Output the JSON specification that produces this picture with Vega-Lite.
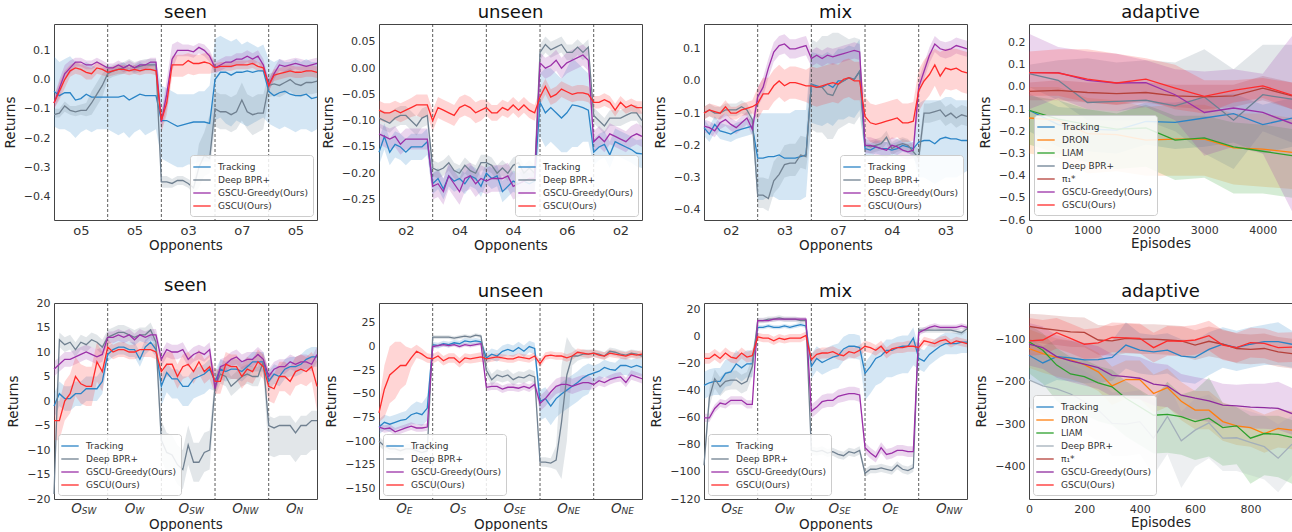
{
"$schema":"https://vega.github.io/schema/vega-lite/v6.json",
"padding":{"left":2,"top":3,"right":0,"bottom":0},
"config":{
"font":"DejaVu Sans",
"view":{"stroke":"#444","strokeWidth":1},
"title":{"fontSize":18,"fontWeight":"normal","color":"#111","offset":2,"anchor":"middle"},
"axis":{"grid":false,"ticks":false,"domain":false,"labelFontSize":11,"labelColor":"#333","titleFontSize":13.5,"titleFontWeight":"normal","titleColor":"#222","labelPadding":4,"labelOverlap":false,"labelFlush":false},
"axisX":{"titlePadding":1},
"axisY":{"titlePadding":6},
"legend":{"offset":4,"fillColor":"rgba(255,255,255,0.85)","strokeColor":"#cccccc","cornerRadius":3,"padding":5,"labelFontSize":9,"labelColor":"#333","symbolType":"M-1.45,0H1.45","symbolSize":144,"symbolStrokeWidth":2,"rowPadding":1,"labelOffset":9,"labelLimit":220},
"area":{"opacity":0.2},
"line":{"strokeWidth":1.3},
"rule":{"color":"#333","strokeDash":[3,2],"strokeWidth":0.8}
},
"datasets":{
"p1":[
{"x":0,"T":-0.04,"Tl":-0.16,"Th":0.08,"B":-0.12,"Bl":-0.13,"Bh":-0.1,"G":-0.08,"Gl":-0.1,"Gh":-0.06,"R":-0.08,"Rl":-0.1,"Rh":-0.06},
{"x":1,"T":-0.055,"Tl":-0.17,"Th":0.06,"B":-0.115,"Bl":-0.13,"Bh":-0.1,"G":-0.03,"Gl":-0.06,"Gh":0,"R":-0.04,"Rl":-0.07,"Rh":-0.01},
{"x":2,"T":-0.045,"Tl":-0.17,"Th":0.07,"B":-0.09,"Bl":-0.11,"Bh":-0.075,"G":0.02,"Gl":0,"Gh":0.05,"R":0,"Rl":-0.03,"Rh":0.03},
{"x":3,"T":-0.045,"Tl":-0.18,"Th":0.08,"B":-0.105,"Bl":-0.12,"Bh":-0.09,"G":0.04,"Gl":0.02,"Gh":0.065,"R":0.03,"Rl":0.01,"Rh":0.05},
{"x":4,"T":-0.07,"Tl":-0.2,"Th":0.06,"B":-0.11,"Bl":-0.125,"Bh":-0.09,"G":0.06,"Gl":0.045,"Gh":0.075,"R":0.04,"Rl":0.02,"Rh":0.06},
{"x":5,"T":-0.065,"Tl":-0.18,"Th":0.05,"B":-0.105,"Bl":-0.12,"Bh":-0.085,"G":0.06,"Gl":0.045,"Gh":0.075,"R":0.035,"Rl":0.015,"Rh":0.055},
{"x":6,"T":-0.05,"Tl":-0.17,"Th":0.06,"B":-0.105,"Bl":-0.125,"Bh":-0.08,"G":0.05,"Gl":0.035,"Gh":0.065,"R":0.025,"Rl":0,"Rh":0.045},
{"x":7,"T":-0.06,"Tl":-0.18,"Th":0.05,"B":-0.08,"Bl":-0.12,"Bh":-0.04,"G":0.05,"Gl":0.035,"Gh":0.065,"R":0.02,"Rl":0,"Rh":0.04},
{"x":8,"T":-0.06,"Tl":-0.17,"Th":0.04,"B":-0.05,"Bl":-0.09,"Bh":-0.01,"G":0.06,"Gl":0.045,"Gh":0.075,"R":0.04,"Rl":0.02,"Rh":0.06},
{"x":9,"T":-0.06,"Tl":-0.17,"Th":0.04,"B":-0.02,"Bl":-0.06,"Bh":0.02,"G":0.05,"Gl":0.035,"Gh":0.065,"R":0.035,"Rl":0.015,"Rh":0.055},
{"x":10,"T":-0.06,"Tl":-0.17,"Th":0.05,"B":0.02,"Bl":0,"Bh":0.04,"G":0.04,"Gl":0.025,"Gh":0.055,"R":0.025,"Rl":0.01,"Rh":0.04},
{"x":11,"T":-0.06,"Tl":-0.18,"Th":0.04,"B":0.03,"Bl":0.01,"Bh":0.05,"G":0.04,"Gl":0.025,"Gh":0.055,"R":0.03,"Rl":0.015,"Rh":0.045},
{"x":12,"T":-0.06,"Tl":-0.19,"Th":0.05,"B":0.035,"Bl":0.015,"Bh":0.055,"G":0.05,"Gl":0.035,"Gh":0.065,"R":0.035,"Rl":0.02,"Rh":0.05},
{"x":13,"T":-0.055,"Tl":-0.18,"Th":0.06,"B":0.04,"Bl":0.02,"Bh":0.06,"G":0.04,"Gl":0.025,"Gh":0.055,"R":0.035,"Rl":0.02,"Rh":0.05},
{"x":14,"T":-0.07,"Tl":-0.2,"Th":0.04,"B":0.05,"Bl":0.03,"Bh":0.07,"G":0.05,"Gl":0.035,"Gh":0.065,"R":0.03,"Rl":0.015,"Rh":0.045},
{"x":15,"T":-0.06,"Tl":-0.18,"Th":0.05,"B":0.04,"Bl":0.02,"Bh":0.06,"G":0.04,"Gl":0.025,"Gh":0.055,"R":0.035,"Rl":0.02,"Rh":0.05},
{"x":16,"T":-0.05,"Tl":-0.17,"Th":0.06,"B":0.045,"Bl":0.025,"Bh":0.065,"G":0.05,"Gl":0.035,"Gh":0.065,"R":0.03,"Rl":0.015,"Rh":0.045},
{"x":17,"T":-0.055,"Tl":-0.19,"Th":0.05,"B":0.05,"Bl":0.03,"Bh":0.07,"G":0.05,"Gl":0.035,"Gh":0.065,"R":0.035,"Rl":0.02,"Rh":0.05},
{"x":18,"T":-0.055,"Tl":-0.18,"Th":0.06,"B":0.05,"Bl":0.03,"Bh":0.07,"G":0.06,"Gl":0.045,"Gh":0.075,"R":0.035,"Rl":0.02,"Rh":0.05},
{"x":19,"T":-0.055,"Tl":-0.17,"Th":0.06,"B":0.05,"Bl":0.03,"Bh":0.07,"G":0.06,"Gl":0.045,"Gh":0.075,"R":0.03,"Rl":0.015,"Rh":0.045},
{"x":20,"T":-0.14,"Tl":-0.27,"Th":-0.02,"B":-0.35,"Bl":-0.37,"Bh":-0.33,"G":-0.145,"Gl":-0.17,"Gh":-0.12,"R":-0.14,"Rl":-0.18,"Rh":-0.11},
{"x":21,"T":-0.14,"Tl":-0.28,"Th":-0.03,"B":-0.35,"Bl":-0.37,"Bh":-0.33,"G":-0.05,"Gl":-0.1,"Gh":0,"R":-0.08,"Rl":-0.12,"Rh":-0.04},
{"x":22,"T":-0.15,"Tl":-0.29,"Th":-0.04,"B":-0.355,"Bl":-0.37,"Bh":-0.34,"G":0.07,"Gl":0.03,"Gh":0.12,"R":0.05,"Rl":0.01,"Rh":0.08},
{"x":23,"T":-0.16,"Tl":-0.3,"Th":-0.05,"B":-0.345,"Bl":-0.36,"Bh":-0.33,"G":0.1,"Gl":0.08,"Gh":0.13,"R":0.05,"Rl":0.01,"Rh":0.085},
{"x":24,"T":-0.155,"Tl":-0.3,"Th":-0.05,"B":-0.345,"Bl":-0.36,"Bh":-0.33,"G":0.1,"Gl":0.08,"Gh":0.12,"R":0.05,"Rl":0.01,"Rh":0.085},
{"x":25,"T":-0.15,"Tl":-0.29,"Th":-0.05,"B":-0.355,"Bl":-0.37,"Bh":-0.34,"G":0.1,"Gl":0.08,"Gh":0.12,"R":0.065,"Rl":0.02,"Rh":0.09},
{"x":26,"T":-0.145,"Tl":-0.29,"Th":-0.05,"B":-0.37,"Bl":-0.39,"Bh":-0.35,"G":0.095,"Gl":0.075,"Gh":0.115,"R":0.055,"Rl":0.015,"Rh":0.085},
{"x":27,"T":-0.145,"Tl":-0.28,"Th":-0.04,"B":-0.3,"Bl":-0.37,"Bh":-0.22,"G":0.11,"Gl":0.09,"Gh":0.125,"R":0.055,"Rl":0.02,"Rh":0.085},
{"x":28,"T":-0.145,"Tl":-0.28,"Th":-0.04,"B":-0.26,"Bl":-0.33,"Bh":-0.18,"G":0.1,"Gl":0.08,"Gh":0.12,"R":0.06,"Rl":0.02,"Rh":0.09},
{"x":29,"T":-0.15,"Tl":-0.28,"Th":-0.02,"B":-0.27,"Bl":-0.32,"Bh":-0.12,"G":0.08,"Gl":0.06,"Gh":0.1,"R":0.055,"Rl":0.02,"Rh":0.09},
{"x":30,"T":0,"Tl":-0.14,"Th":0.14,"B":-0.1,"Bl":-0.16,"Bh":-0.04,"G":0.04,"Gl":0.02,"Gh":0.06,"R":0.04,"Rl":0.025,"Rh":0.055},
{"x":31,"T":0.025,"Tl":-0.13,"Th":0.15,"B":-0.11,"Bl":-0.17,"Bh":-0.05,"G":0.05,"Gl":0.03,"Gh":0.07,"R":0.045,"Rl":0.03,"Rh":0.06},
{"x":32,"T":0.025,"Tl":-0.15,"Th":0.14,"B":-0.11,"Bl":-0.17,"Bh":-0.05,"G":0.06,"Gl":0.04,"Gh":0.08,"R":0.045,"Rl":0.03,"Rh":0.06},
{"x":33,"T":0.015,"Tl":-0.16,"Th":0.13,"B":-0.12,"Bl":-0.18,"Bh":-0.06,"G":0.06,"Gl":0.04,"Gh":0.08,"R":0.045,"Rl":0.03,"Rh":0.06},
{"x":34,"T":0.025,"Tl":-0.14,"Th":0.14,"B":-0.11,"Bl":-0.17,"Bh":-0.05,"G":0.07,"Gl":0.05,"Gh":0.09,"R":0.05,"Rl":0.035,"Rh":0.065},
{"x":35,"T":0.025,"Tl":-0.15,"Th":0.12,"B":-0.07,"Bl":-0.14,"Bh":-0.01,"G":0.07,"Gl":0.05,"Gh":0.09,"R":0.05,"Rl":0.035,"Rh":0.065},
{"x":36,"T":0.03,"Tl":-0.16,"Th":0.13,"B":-0.11,"Bl":-0.17,"Bh":-0.05,"G":0.08,"Gl":0.06,"Gh":0.1,"R":0.05,"Rl":0.035,"Rh":0.065},
{"x":37,"T":0.025,"Tl":-0.15,"Th":0.12,"B":-0.12,"Bl":-0.19,"Bh":-0.06,"G":0.07,"Gl":0.05,"Gh":0.09,"R":0.055,"Rl":0.04,"Rh":0.07},
{"x":38,"T":0.03,"Tl":-0.14,"Th":0.11,"B":-0.115,"Bl":-0.18,"Bh":-0.05,"G":0.08,"Gl":0.06,"Gh":0.1,"R":0.045,"Rl":0.03,"Rh":0.06},
{"x":39,"T":0.03,"Tl":-0.13,"Th":0.12,"B":-0.115,"Bl":-0.17,"Bh":-0.05,"G":0.05,"Gl":0.03,"Gh":0.07,"R":0.04,"Rl":0.025,"Rh":0.055},
{"x":40,"T":-0.04,"Tl":-0.15,"Th":0.07,"B":-0.02,"Bl":-0.06,"Bh":0.02,"G":-0.02,"Gl":-0.04,"Gh":0,"R":-0.02,"Rl":-0.04,"Rh":0},
{"x":41,"T":-0.055,"Tl":-0.16,"Th":0.06,"B":-0.015,"Bl":-0.055,"Bh":0.025,"G":0.02,"Gl":0,"Gh":0.04,"R":0.015,"Rl":-0.005,"Rh":0.035},
{"x":42,"T":-0.045,"Tl":-0.17,"Th":0.07,"B":-0.02,"Bl":-0.06,"Bh":0.02,"G":0.05,"Gl":0.03,"Gh":0.07,"R":0.02,"Rl":0,"Rh":0.04},
{"x":43,"T":-0.04,"Tl":-0.16,"Th":0.06,"B":-0.01,"Bl":-0.05,"Bh":0.03,"G":0.045,"Gl":0.025,"Gh":0.065,"R":0.025,"Rl":0.005,"Rh":0.045},
{"x":44,"T":-0.05,"Tl":-0.17,"Th":0.06,"B":0,"Bl":-0.04,"Bh":0.04,"G":0.05,"Gl":0.03,"Gh":0.07,"R":0.03,"Rl":0.01,"Rh":0.05},
{"x":45,"T":-0.055,"Tl":-0.18,"Th":0.07,"B":-0.015,"Bl":-0.055,"Bh":0.025,"G":0.055,"Gl":0.035,"Gh":0.075,"R":0.025,"Rl":0.005,"Rh":0.045},
{"x":46,"T":-0.055,"Tl":-0.17,"Th":0.06,"B":-0.02,"Bl":-0.06,"Bh":0.02,"G":0.05,"Gl":0.03,"Gh":0.07,"R":0.025,"Rl":0.005,"Rh":0.045},
{"x":47,"T":-0.05,"Tl":-0.17,"Th":0.07,"B":-0.01,"Bl":-0.05,"Bh":0.03,"G":0.045,"Gl":0.025,"Gh":0.065,"R":0.03,"Rl":0.01,"Rh":0.05},
{"x":48,"T":-0.065,"Tl":-0.18,"Th":0.06,"B":-0.01,"Bl":-0.05,"Bh":0.03,"G":0.05,"Gl":0.03,"Gh":0.07,"R":0.03,"Rl":0.01,"Rh":0.05},
{"x":49,"T":-0.06,"Tl":-0.17,"Th":0.06,"B":-0.005,"Bl":-0.045,"Bh":0.035,"G":0.055,"Gl":0.035,"Gh":0.075,"R":0.025,"Rl":0.005,"Rh":0.045}
],
"p2":[
{"x":0,"T":-0.16,"Tl":-0.185,"Th":-0.135,"B":-0.095,"Bl":-0.113,"Bh":-0.077,"G":-0.125,"Gl":-0.145,"Gh":-0.105,"R":-0.08,"Rl":-0.098,"Rh":-0.062},
{"x":1,"T":-0.13,"Tl":-0.155,"Th":-0.105,"B":-0.1,"Bl":-0.118,"Bh":-0.082,"G":-0.13,"Gl":-0.15,"Gh":-0.11,"R":-0.085,"Rl":-0.103,"Rh":-0.067},
{"x":2,"T":-0.16,"Tl":-0.185,"Th":-0.135,"B":-0.105,"Bl":-0.123,"Bh":-0.087,"G":-0.135,"Gl":-0.155,"Gh":-0.115,"R":-0.085,"Rl":-0.103,"Rh":-0.067},
{"x":3,"T":-0.145,"Tl":-0.17,"Th":-0.12,"B":-0.095,"Bl":-0.113,"Bh":-0.077,"G":-0.13,"Gl":-0.15,"Gh":-0.11,"R":-0.08,"Rl":-0.098,"Rh":-0.062},
{"x":4,"T":-0.15,"Tl":-0.175,"Th":-0.125,"B":-0.09,"Bl":-0.108,"Bh":-0.072,"G":-0.145,"Gl":-0.165,"Gh":-0.125,"R":-0.085,"Rl":-0.103,"Rh":-0.067},
{"x":5,"T":-0.16,"Tl":-0.185,"Th":-0.135,"B":-0.09,"Bl":-0.108,"Bh":-0.072,"G":-0.135,"Gl":-0.155,"Gh":-0.115,"R":-0.08,"Rl":-0.098,"Rh":-0.062},
{"x":6,"T":-0.15,"Tl":-0.175,"Th":-0.125,"B":-0.1,"Bl":-0.118,"Bh":-0.082,"G":-0.135,"Gl":-0.155,"Gh":-0.115,"R":-0.075,"Rl":-0.093,"Rh":-0.057},
{"x":7,"T":-0.15,"Tl":-0.175,"Th":-0.125,"B":-0.11,"Bl":-0.128,"Bh":-0.092,"G":-0.135,"Gl":-0.155,"Gh":-0.115,"R":-0.07,"Rl":-0.09,"Rh":-0.05},
{"x":8,"T":-0.15,"Tl":-0.175,"Th":-0.125,"B":-0.095,"Bl":-0.113,"Bh":-0.077,"G":-0.135,"Gl":-0.155,"Gh":-0.115,"R":-0.07,"Rl":-0.095,"Rh":-0.05},
{"x":9,"T":-0.14,"Tl":-0.165,"Th":-0.115,"B":-0.09,"Bl":-0.108,"Bh":-0.072,"G":-0.135,"Gl":-0.155,"Gh":-0.115,"R":-0.07,"Rl":-0.09,"Rh":-0.05},
{"x":10,"T":-0.22,"Tl":-0.24,"Th":-0.2,"B":-0.19,"Bl":-0.205,"Bh":-0.175,"G":-0.225,"Gl":-0.25,"Gh":-0.2,"R":-0.1,"Rl":-0.12,"Rh":-0.08},
{"x":11,"T":-0.21,"Tl":-0.23,"Th":-0.19,"B":-0.195,"Bl":-0.21,"Bh":-0.18,"G":-0.22,"Gl":-0.245,"Gh":-0.195,"R":-0.075,"Rl":-0.095,"Rh":-0.055},
{"x":12,"T":-0.23,"Tl":-0.25,"Th":-0.21,"B":-0.19,"Bl":-0.205,"Bh":-0.175,"G":-0.235,"Gl":-0.26,"Gh":-0.21,"R":-0.08,"Rl":-0.1,"Rh":-0.06},
{"x":13,"T":-0.205,"Tl":-0.225,"Th":-0.185,"B":-0.18,"Bl":-0.195,"Bh":-0.165,"G":-0.205,"Gl":-0.23,"Gh":-0.18,"R":-0.085,"Rl":-0.105,"Rh":-0.065},
{"x":14,"T":-0.215,"Tl":-0.235,"Th":-0.195,"B":-0.195,"Bl":-0.21,"Bh":-0.18,"G":-0.22,"Gl":-0.245,"Gh":-0.195,"R":-0.09,"Rl":-0.11,"Rh":-0.07},
{"x":15,"T":-0.21,"Tl":-0.23,"Th":-0.19,"B":-0.2,"Bl":-0.215,"Bh":-0.185,"G":-0.235,"Gl":-0.26,"Gh":-0.21,"R":-0.075,"Rl":-0.095,"Rh":-0.055},
{"x":16,"T":-0.22,"Tl":-0.24,"Th":-0.2,"B":-0.185,"Bl":-0.2,"Bh":-0.17,"G":-0.21,"Gl":-0.235,"Gh":-0.185,"R":-0.07,"Rl":-0.09,"Rh":-0.05},
{"x":17,"T":-0.205,"Tl":-0.225,"Th":-0.185,"B":-0.195,"Bl":-0.21,"Bh":-0.18,"G":-0.205,"Gl":-0.23,"Gh":-0.18,"R":-0.075,"Rl":-0.095,"Rh":-0.055},
{"x":18,"T":-0.21,"Tl":-0.23,"Th":-0.19,"B":-0.2,"Bl":-0.215,"Bh":-0.185,"G":-0.22,"Gl":-0.245,"Gh":-0.195,"R":-0.085,"Rl":-0.105,"Rh":-0.065},
{"x":19,"T":-0.225,"Tl":-0.245,"Th":-0.205,"B":-0.18,"Bl":-0.195,"Bh":-0.165,"G":-0.21,"Gl":-0.235,"Gh":-0.185,"R":-0.08,"Rl":-0.1,"Rh":-0.06},
{"x":20,"T":-0.2,"Tl":-0.22,"Th":-0.18,"B":-0.18,"Bl":-0.195,"Bh":-0.165,"G":-0.215,"Gl":-0.24,"Gh":-0.19,"R":-0.075,"Rl":-0.09,"Rh":-0.06},
{"x":21,"T":-0.21,"Tl":-0.23,"Th":-0.19,"B":-0.185,"Bl":-0.2,"Bh":-0.17,"G":-0.21,"Gl":-0.235,"Gh":-0.185,"R":-0.085,"Rl":-0.1,"Rh":-0.07},
{"x":22,"T":-0.205,"Tl":-0.225,"Th":-0.185,"B":-0.2,"Bl":-0.215,"Bh":-0.185,"G":-0.21,"Gl":-0.235,"Gh":-0.185,"R":-0.085,"Rl":-0.1,"Rh":-0.07},
{"x":23,"T":-0.235,"Tl":-0.255,"Th":-0.215,"B":-0.19,"Bl":-0.205,"Bh":-0.175,"G":-0.21,"Gl":-0.235,"Gh":-0.185,"R":-0.075,"Rl":-0.09,"Rh":-0.06},
{"x":24,"T":-0.225,"Tl":-0.245,"Th":-0.205,"B":-0.2,"Bl":-0.215,"Bh":-0.185,"G":-0.205,"Gl":-0.23,"Gh":-0.18,"R":-0.08,"Rl":-0.095,"Rh":-0.065},
{"x":25,"T":-0.215,"Tl":-0.235,"Th":-0.195,"B":-0.185,"Bl":-0.2,"Bh":-0.17,"G":-0.225,"Gl":-0.25,"Gh":-0.2,"R":-0.07,"Rl":-0.085,"Rh":-0.055},
{"x":26,"T":-0.22,"Tl":-0.24,"Th":-0.2,"B":-0.18,"Bl":-0.195,"Bh":-0.165,"G":-0.22,"Gl":-0.245,"Gh":-0.195,"R":-0.08,"Rl":-0.095,"Rh":-0.065},
{"x":27,"T":-0.215,"Tl":-0.235,"Th":-0.195,"B":-0.2,"Bl":-0.215,"Bh":-0.185,"G":-0.215,"Gl":-0.24,"Gh":-0.19,"R":-0.07,"Rl":-0.085,"Rh":-0.055},
{"x":28,"T":-0.22,"Tl":-0.24,"Th":-0.2,"B":-0.19,"Bl":-0.205,"Bh":-0.175,"G":-0.21,"Gl":-0.235,"Gh":-0.185,"R":-0.08,"Rl":-0.095,"Rh":-0.065},
{"x":29,"T":-0.215,"Tl":-0.235,"Th":-0.195,"B":-0.2,"Bl":-0.215,"Bh":-0.185,"G":-0.21,"Gl":-0.235,"Gh":-0.185,"R":-0.085,"Rl":-0.1,"Rh":-0.07},
{"x":30,"T":-0.065,"Tl":-0.13,"Th":-0.01,"B":0.03,"Bl":0.015,"Bh":0.045,"G":0.01,"Gl":-0.01,"Gh":0.03,"R":-0.055,"Rl":-0.07,"Rh":-0.04},
{"x":31,"T":-0.085,"Tl":-0.15,"Th":0,"B":0.045,"Bl":0.03,"Bh":0.06,"G":0,"Gl":-0.02,"Gh":0.02,"R":-0.035,"Rl":-0.05,"Rh":-0.02},
{"x":32,"T":-0.075,"Tl":-0.14,"Th":0,"B":0.035,"Bl":0.02,"Bh":0.05,"G":0.005,"Gl":-0.015,"Gh":0.025,"R":-0.055,"Rl":-0.07,"Rh":-0.04},
{"x":33,"T":-0.085,"Tl":-0.15,"Th":-0.01,"B":0.04,"Bl":0.025,"Bh":0.055,"G":0.015,"Gl":-0.005,"Gh":0.035,"R":-0.05,"Rl":-0.065,"Rh":-0.035},
{"x":34,"T":-0.095,"Tl":-0.16,"Th":-0.02,"B":0.045,"Bl":0.03,"Bh":0.06,"G":0,"Gl":-0.02,"Gh":0.02,"R":-0.04,"Rl":-0.055,"Rh":-0.025},
{"x":35,"T":-0.085,"Tl":-0.16,"Th":0,"B":0.03,"Bl":0.015,"Bh":0.045,"G":0.01,"Gl":-0.01,"Gh":0.03,"R":-0.045,"Rl":-0.06,"Rh":-0.03},
{"x":36,"T":-0.07,"Tl":-0.15,"Th":0.02,"B":0.03,"Bl":0.015,"Bh":0.045,"G":0.015,"Gl":-0.005,"Gh":0.035,"R":-0.05,"Rl":-0.065,"Rh":-0.035},
{"x":37,"T":-0.072,"Tl":-0.15,"Th":0.01,"B":0.04,"Bl":0.025,"Bh":0.055,"G":0.02,"Gl":0,"Gh":0.04,"R":-0.047,"Rl":-0.062,"Rh":-0.032},
{"x":38,"T":-0.075,"Tl":-0.14,"Th":0,"B":0.03,"Bl":0.015,"Bh":0.045,"G":0.025,"Gl":0.005,"Gh":0.045,"R":-0.047,"Rl":-0.062,"Rh":-0.032},
{"x":39,"T":-0.08,"Tl":-0.14,"Th":-0.01,"B":0.04,"Bl":0.025,"Bh":0.055,"G":0.015,"Gl":-0.005,"Gh":0.035,"R":-0.05,"Rl":-0.065,"Rh":-0.035},
{"x":40,"T":-0.16,"Tl":-0.185,"Th":-0.135,"B":-0.09,"Bl":-0.105,"Bh":-0.075,"G":-0.14,"Gl":-0.16,"Gh":-0.12,"R":-0.065,"Rl":-0.077,"Rh":-0.053},
{"x":41,"T":-0.15,"Tl":-0.175,"Th":-0.125,"B":-0.1,"Bl":-0.115,"Bh":-0.085,"G":-0.13,"Gl":-0.15,"Gh":-0.11,"R":-0.065,"Rl":-0.077,"Rh":-0.053},
{"x":42,"T":-0.145,"Tl":-0.17,"Th":-0.12,"B":-0.11,"Bl":-0.125,"Bh":-0.095,"G":-0.14,"Gl":-0.16,"Gh":-0.12,"R":-0.06,"Rl":-0.072,"Rh":-0.048},
{"x":43,"T":-0.165,"Tl":-0.19,"Th":-0.14,"B":-0.095,"Bl":-0.11,"Bh":-0.08,"G":-0.125,"Gl":-0.145,"Gh":-0.105,"R":-0.065,"Rl":-0.077,"Rh":-0.053},
{"x":44,"T":-0.14,"Tl":-0.165,"Th":-0.115,"B":-0.095,"Bl":-0.11,"Bh":-0.08,"G":-0.13,"Gl":-0.15,"Gh":-0.11,"R":-0.08,"Rl":-0.092,"Rh":-0.068},
{"x":45,"T":-0.145,"Tl":-0.17,"Th":-0.12,"B":-0.095,"Bl":-0.11,"Bh":-0.08,"G":-0.135,"Gl":-0.155,"Gh":-0.115,"R":-0.065,"Rl":-0.077,"Rh":-0.053},
{"x":46,"T":-0.15,"Tl":-0.175,"Th":-0.125,"B":-0.09,"Bl":-0.105,"Bh":-0.075,"G":-0.14,"Gl":-0.16,"Gh":-0.12,"R":-0.075,"Rl":-0.087,"Rh":-0.063},
{"x":47,"T":-0.155,"Tl":-0.18,"Th":-0.13,"B":-0.085,"Bl":-0.1,"Bh":-0.07,"G":-0.13,"Gl":-0.15,"Gh":-0.11,"R":-0.07,"Rl":-0.082,"Rh":-0.058},
{"x":48,"T":-0.162,"Tl":-0.187,"Th":-0.137,"B":-0.085,"Bl":-0.1,"Bh":-0.07,"G":-0.125,"Gl":-0.145,"Gh":-0.105,"R":-0.075,"Rl":-0.087,"Rh":-0.063},
{"x":49,"T":-0.163,"Tl":-0.19,"Th":-0.135,"B":-0.1,"Bl":-0.115,"Bh":-0.085,"G":-0.13,"Gl":-0.15,"Gh":-0.11,"R":-0.075,"Rl":-0.087,"Rh":-0.063}
],
"p3":[
{"x":0,"T":-0.145,"Tl":-0.17,"Th":-0.12,"B":-0.1,"Bl":-0.12,"Bh":-0.08,"G":-0.14,"Gl":-0.16,"Gh":-0.12,"R":-0.1,"Rl":-0.12,"Rh":-0.08},
{"x":1,"T":-0.165,"Tl":-0.19,"Th":-0.14,"B":-0.09,"Bl":-0.11,"Bh":-0.07,"G":-0.145,"Gl":-0.165,"Gh":-0.125,"R":-0.09,"Rl":-0.11,"Rh":-0.07},
{"x":2,"T":-0.135,"Tl":-0.16,"Th":-0.11,"B":-0.1,"Bl":-0.12,"Bh":-0.08,"G":-0.155,"Gl":-0.175,"Gh":-0.135,"R":-0.095,"Rl":-0.115,"Rh":-0.075},
{"x":3,"T":-0.155,"Tl":-0.18,"Th":-0.13,"B":-0.1,"Bl":-0.12,"Bh":-0.08,"G":-0.13,"Gl":-0.15,"Gh":-0.11,"R":-0.1,"Rl":-0.12,"Rh":-0.08},
{"x":4,"T":-0.16,"Tl":-0.185,"Th":-0.135,"B":-0.09,"Bl":-0.11,"Bh":-0.07,"G":-0.12,"Gl":-0.14,"Gh":-0.1,"R":-0.08,"Rl":-0.1,"Rh":-0.06},
{"x":5,"T":-0.165,"Tl":-0.19,"Th":-0.14,"B":-0.09,"Bl":-0.11,"Bh":-0.07,"G":-0.135,"Gl":-0.155,"Gh":-0.115,"R":-0.1,"Rl":-0.12,"Rh":-0.08},
{"x":6,"T":-0.155,"Tl":-0.18,"Th":-0.13,"B":-0.09,"Bl":-0.11,"Bh":-0.07,"G":-0.145,"Gl":-0.165,"Gh":-0.125,"R":-0.1,"Rl":-0.12,"Rh":-0.08},
{"x":7,"T":-0.15,"Tl":-0.175,"Th":-0.125,"B":-0.08,"Bl":-0.1,"Bh":-0.06,"G":-0.13,"Gl":-0.15,"Gh":-0.11,"R":-0.09,"Rl":-0.11,"Rh":-0.07},
{"x":8,"T":-0.145,"Tl":-0.17,"Th":-0.12,"B":-0.09,"Bl":-0.11,"Bh":-0.07,"G":-0.115,"Gl":-0.135,"Gh":-0.095,"R":-0.085,"Rl":-0.105,"Rh":-0.065},
{"x":9,"T":-0.14,"Tl":-0.165,"Th":-0.115,"B":-0.12,"Bl":-0.14,"Bh":-0.1,"G":-0.15,"Gl":-0.17,"Gh":-0.13,"R":-0.08,"Rl":-0.1,"Rh":-0.06},
{"x":10,"T":-0.24,"Tl":-0.37,"Th":-0.1,"B":-0.355,"Bl":-0.395,"Bh":-0.3,"G":-0.05,"Gl":-0.08,"Gh":-0.02,"R":-0.07,"Rl":-0.12,"Rh":-0.02},
{"x":11,"T":-0.24,"Tl":-0.37,"Th":-0.1,"B":-0.355,"Bl":-0.395,"Bh":-0.3,"G":-0.02,"Gl":-0.05,"Gh":0.01,"R":-0.04,"Rl":-0.09,"Rh":0.01},
{"x":12,"T":-0.235,"Tl":-0.36,"Th":-0.1,"B":-0.365,"Bl":-0.405,"Bh":-0.305,"G":0.04,"Gl":0.01,"Gh":0.07,"R":-0.04,"Rl":-0.09,"Rh":0.01},
{"x":13,"T":-0.235,"Tl":-0.36,"Th":-0.1,"B":-0.31,"Bl":-0.35,"Bh":-0.25,"G":0.09,"Gl":0.06,"Gh":0.12,"R":-0.015,"Rl":-0.065,"Rh":0.035},
{"x":14,"T":-0.23,"Tl":-0.37,"Th":-0.1,"B":-0.29,"Bl":-0.33,"Bh":-0.23,"G":0.11,"Gl":0.08,"Gh":0.14,"R":0,"Rl":-0.05,"Rh":0.05},
{"x":15,"T":-0.24,"Tl":-0.37,"Th":-0.1,"B":-0.26,"Bl":-0.3,"Bh":-0.2,"G":0.115,"Gl":0.085,"Gh":0.145,"R":-0.015,"Rl":-0.065,"Rh":0.035},
{"x":16,"T":-0.24,"Tl":-0.37,"Th":-0.1,"B":-0.255,"Bl":-0.295,"Bh":-0.195,"G":0.1,"Gl":0.07,"Gh":0.13,"R":-0.005,"Rl":-0.055,"Rh":0.045},
{"x":17,"T":-0.24,"Tl":-0.37,"Th":-0.09,"B":-0.255,"Bl":-0.295,"Bh":-0.195,"G":0.1,"Gl":0.07,"Gh":0.13,"R":-0.005,"Rl":-0.055,"Rh":0.045},
{"x":18,"T":-0.235,"Tl":-0.37,"Th":-0.09,"B":-0.23,"Bl":-0.27,"Bh":-0.17,"G":0.105,"Gl":0.075,"Gh":0.135,"R":-0.01,"Rl":-0.06,"Rh":0.04},
{"x":19,"T":-0.23,"Tl":-0.36,"Th":-0.09,"B":-0.235,"Bl":-0.275,"Bh":-0.175,"G":0.11,"Gl":0.08,"Gh":0.14,"R":-0.015,"Rl":-0.065,"Rh":0.035},
{"x":20,"T":-0.01,"Tl":-0.13,"Th":0.09,"B":-0.01,"Bl":-0.15,"Bh":0.13,"G":0.07,"Gl":0.045,"Gh":0.095,"R":-0.015,"Rl":-0.075,"Rh":0.045},
{"x":21,"T":-0.015,"Tl":-0.135,"Th":0.085,"B":-0.02,"Bl":-0.16,"Bh":0.12,"G":0.08,"Gl":0.055,"Gh":0.105,"R":-0.02,"Rl":-0.08,"Rh":0.04},
{"x":22,"T":-0.02,"Tl":-0.14,"Th":0.08,"B":-0.02,"Bl":-0.16,"Bh":0.14,"G":0.07,"Gl":0.045,"Gh":0.095,"R":-0.015,"Rl":-0.075,"Rh":0.045},
{"x":23,"T":-0.01,"Tl":-0.13,"Th":0.09,"B":-0.04,"Bl":-0.18,"Bh":0.14,"G":0.08,"Gl":0.055,"Gh":0.105,"R":-0.01,"Rl":-0.07,"Rh":0.05},
{"x":24,"T":-0.02,"Tl":-0.14,"Th":0.08,"B":-0.045,"Bl":-0.18,"Bh":0.15,"G":0.075,"Gl":0.05,"Gh":0.1,"R":-0.005,"Rl":-0.065,"Rh":0.055},
{"x":25,"T":0,"Tl":-0.12,"Th":0.1,"B":-0.01,"Bl":-0.15,"Bh":0.15,"G":0.08,"Gl":0.055,"Gh":0.105,"R":-0.01,"Rl":-0.07,"Rh":0.05},
{"x":26,"T":0,"Tl":-0.12,"Th":0.1,"B":0,"Bl":-0.14,"Bh":0.14,"G":0.085,"Gl":0.06,"Gh":0.11,"R":0.005,"Rl":-0.055,"Rh":0.065},
{"x":27,"T":0.01,"Tl":-0.11,"Th":0.11,"B":0.01,"Bl":-0.13,"Bh":0.13,"G":0.09,"Gl":0.065,"Gh":0.115,"R":0.01,"Rl":-0.05,"Rh":0.07},
{"x":28,"T":0.005,"Tl":-0.115,"Th":0.105,"B":0.005,"Bl":-0.135,"Bh":0.135,"G":0.095,"Gl":0.07,"Gh":0.12,"R":0,"Rl":-0.06,"Rh":0.06},
{"x":29,"T":0.03,"Tl":-0.09,"Th":0.13,"B":0.03,"Bl":-0.11,"Bh":0.13,"G":0.09,"Gl":0.065,"Gh":0.115,"R":0,"Rl":-0.06,"Rh":0.06},
{"x":30,"T":-0.21,"Tl":-0.23,"Th":-0.19,"B":-0.2,"Bl":-0.22,"Bh":-0.18,"G":-0.2,"Gl":-0.225,"Gh":-0.175,"R":-0.11,"Rl":-0.17,"Rh":-0.05},
{"x":31,"T":-0.215,"Tl":-0.235,"Th":-0.195,"B":-0.205,"Bl":-0.225,"Bh":-0.185,"G":-0.2,"Gl":-0.225,"Gh":-0.175,"R":-0.13,"Rl":-0.19,"Rh":-0.07},
{"x":32,"T":-0.205,"Tl":-0.225,"Th":-0.185,"B":-0.2,"Bl":-0.22,"Bh":-0.18,"G":-0.205,"Gl":-0.23,"Gh":-0.18,"R":-0.135,"Rl":-0.195,"Rh":-0.075},
{"x":33,"T":-0.21,"Tl":-0.23,"Th":-0.19,"B":-0.195,"Bl":-0.215,"Bh":-0.175,"G":-0.21,"Gl":-0.235,"Gh":-0.185,"R":-0.13,"Rl":-0.19,"Rh":-0.07},
{"x":34,"T":-0.21,"Tl":-0.23,"Th":-0.19,"B":-0.175,"Bl":-0.195,"Bh":-0.155,"G":-0.215,"Gl":-0.24,"Gh":-0.19,"R":-0.125,"Rl":-0.185,"Rh":-0.065},
{"x":35,"T":-0.215,"Tl":-0.235,"Th":-0.195,"B":-0.21,"Bl":-0.23,"Bh":-0.19,"G":-0.2,"Gl":-0.225,"Gh":-0.175,"R":-0.12,"Rl":-0.18,"Rh":-0.06},
{"x":36,"T":-0.21,"Tl":-0.23,"Th":-0.19,"B":-0.2,"Bl":-0.22,"Bh":-0.18,"G":-0.205,"Gl":-0.23,"Gh":-0.18,"R":-0.115,"Rl":-0.175,"Rh":-0.055},
{"x":37,"T":-0.2,"Tl":-0.22,"Th":-0.18,"B":-0.195,"Bl":-0.215,"Bh":-0.175,"G":-0.215,"Gl":-0.24,"Gh":-0.19,"R":-0.13,"Rl":-0.19,"Rh":-0.07},
{"x":38,"T":-0.205,"Tl":-0.225,"Th":-0.185,"B":-0.2,"Bl":-0.22,"Bh":-0.18,"G":-0.22,"Gl":-0.245,"Gh":-0.195,"R":-0.13,"Rl":-0.19,"Rh":-0.07},
{"x":39,"T":-0.21,"Tl":-0.23,"Th":-0.19,"B":-0.22,"Bl":-0.24,"Bh":-0.2,"G":-0.215,"Gl":-0.24,"Gh":-0.19,"R":-0.125,"Rl":-0.185,"Rh":-0.065},
{"x":40,"T":-0.19,"Tl":-0.3,"Th":-0.07,"B":-0.24,"Bl":-0.27,"Bh":-0.21,"G":-0.02,"Gl":-0.045,"Gh":0.005,"R":-0.03,"Rl":-0.095,"Rh":0.035},
{"x":41,"T":-0.185,"Tl":-0.3,"Th":-0.06,"B":-0.1,"Bl":-0.13,"Bh":-0.07,"G":0.03,"Gl":0.005,"Gh":0.055,"R":0,"Rl":-0.065,"Rh":0.065},
{"x":42,"T":-0.185,"Tl":-0.31,"Th":-0.06,"B":-0.1,"Bl":-0.13,"Bh":-0.07,"G":0.08,"Gl":0.055,"Gh":0.105,"R":0.02,"Rl":-0.045,"Rh":0.085},
{"x":43,"T":-0.195,"Tl":-0.32,"Th":-0.06,"B":-0.095,"Bl":-0.125,"Bh":-0.065,"G":0.115,"Gl":0.09,"Gh":0.14,"R":0.05,"Rl":-0.015,"Rh":0.1},
{"x":44,"T":-0.18,"Tl":-0.31,"Th":-0.06,"B":-0.09,"Bl":-0.12,"Bh":-0.06,"G":0.1,"Gl":0.075,"Gh":0.125,"R":0.015,"Rl":-0.05,"Rh":0.09},
{"x":45,"T":-0.175,"Tl":-0.3,"Th":-0.05,"B":-0.11,"Bl":-0.14,"Bh":-0.08,"G":0.095,"Gl":0.07,"Gh":0.12,"R":0.04,"Rl":-0.025,"Rh":0.1},
{"x":46,"T":-0.18,"Tl":-0.3,"Th":-0.05,"B":-0.1,"Bl":-0.13,"Bh":-0.07,"G":0.1,"Gl":0.075,"Gh":0.125,"R":0.035,"Rl":-0.03,"Rh":0.1},
{"x":47,"T":-0.18,"Tl":-0.3,"Th":-0.06,"B":-0.115,"Bl":-0.145,"Bh":-0.085,"G":0.11,"Gl":0.085,"Gh":0.135,"R":0.04,"Rl":-0.025,"Rh":0.1},
{"x":48,"T":-0.185,"Tl":-0.29,"Th":-0.06,"B":-0.105,"Bl":-0.135,"Bh":-0.075,"G":0.105,"Gl":0.08,"Gh":0.13,"R":0.03,"Rl":-0.035,"Rh":0.095},
{"x":49,"T":-0.185,"Tl":-0.28,"Th":-0.06,"B":-0.11,"Bl":-0.14,"Bh":-0.08,"G":0.1,"Gl":0.075,"Gh":0.125,"R":0.025,"Rl":-0.04,"Rh":0.09}
],
"p4":[
{"x":0,"T":-0.105,"Tl":-0.2,"Th":-0.03,"D":-0.14,"Dl":-0.3,"Dh":0,"L":-0.105,"Ll":-0.26,"Lh":-0.04,"B":0.06,"Bl":0,"Bh":0.1,"P":-0.02,"Pl":-0.06,"Ph":0.02,"G":0.065,"Gl":-0.1,"Gh":0.24,"R":0.065,"Rl":-0.04,"Rh":0.16},
{"x":500,"T":-0.17,"Tl":-0.27,"Th":-0.09,"D":-0.15,"Dl":-0.32,"Dh":0,"L":-0.145,"Ll":-0.3,"Lh":-0.06,"B":0.03,"Bl":-0.06,"Bh":0.12,"P":-0.015,"Pl":-0.06,"Ph":0.03,"G":0.065,"Gl":-0.05,"Gh":0.18,"R":0.063,"Rl":-0.04,"Rh":0.17},
{"x":1000,"T":-0.19,"Tl":-0.29,"Th":-0.1,"D":-0.21,"Dl":-0.39,"Dh":-0.05,"L":-0.17,"Ll":-0.34,"Lh":-0.1,"B":-0.07,"Bl":-0.15,"Bh":0.13,"P":-0.025,"Pl":-0.07,"Ph":0.02,"G":0.03,"Gl":-0.1,"Gh":0.16,"R":0.035,"Rl":-0.07,"Rh":0.17},
{"x":1500,"T":-0.195,"Tl":-0.3,"Th":-0.11,"D":-0.215,"Dl":-0.38,"Dh":-0.06,"L":-0.19,"Ll":-0.37,"Lh":-0.12,"B":-0.065,"Bl":-0.15,"Bh":0.11,"P":-0.03,"Pl":-0.08,"Ph":0.02,"G":0.018,"Gl":-0.11,"Gh":0.15,"R":0.018,"Rl":-0.08,"Rh":0.15},
{"x":2000,"T":-0.155,"Tl":-0.26,"Th":-0.07,"D":-0.24,"Dl":-0.4,"Dh":-0.09,"L":-0.185,"Ll":-0.36,"Lh":-0.08,"B":-0.06,"Bl":-0.15,"Bh":0.12,"P":-0.025,"Pl":-0.07,"Ph":0.02,"G":0.02,"Gl":-0.09,"Gh":0.12,"R":0.035,"Rl":-0.06,"Rh":0.13},
{"x":2500,"T":-0.16,"Tl":-0.28,"Th":-0.07,"D":-0.235,"Dl":-0.4,"Dh":-0.08,"L":-0.24,"Ll":-0.42,"Lh":-0.13,"B":-0.085,"Bl":-0.2,"Bh":0.11,"P":-0.04,"Pl":-0.09,"Ph":0.01,"G":-0.035,"Gl":-0.15,"Gh":0.08,"R":-0.005,"Rl":-0.1,"Rh":0.1},
{"x":3000,"T":-0.14,"Tl":-0.27,"Th":-0.05,"D":-0.235,"Dl":-0.4,"Dh":-0.08,"L":-0.23,"Ll":-0.41,"Lh":-0.13,"B":-0.045,"Bl":-0.3,"Bh":0.17,"P":-0.045,"Pl":-0.1,"Ph":0.01,"G":-0.115,"Gl":-0.31,"Gh":0.07,"R":-0.042,"Rl":-0.12,"Rh":0.03},
{"x":3500,"T":-0.12,"Tl":-0.25,"Th":-0.03,"D":-0.275,"Dl":-0.44,"Dh":-0.12,"L":-0.27,"Ll":-0.48,"Lh":-0.16,"B":-0.15,"Bl":-0.37,"Bh":0.08,"P":-0.04,"Pl":-0.09,"Ph":0.01,"G":-0.095,"Gl":-0.27,"Gh":0.08,"R":-0.015,"Rl":-0.07,"Rh":0.03},
{"x":4000,"T":-0.17,"Tl":-0.3,"Th":-0.08,"D":-0.28,"Dl":-0.45,"Dh":-0.12,"L":-0.29,"Ll":-0.48,"Lh":-0.17,"B":-0.035,"Bl":-0.2,"Bh":0.19,"P":-0.005,"Pl":-0.06,"Ph":0.05,"G":-0.115,"Gl":-0.3,"Gh":0.06,"R":0.005,"Rl":-0.05,"Rh":0.04},
{"x":4500,"T":-0.14,"Tl":-0.27,"Th":-0.05,"D":-0.295,"Dl":-0.46,"Dh":-0.14,"L":-0.31,"Ll":-0.5,"Lh":-0.19,"B":-0.055,"Bl":-0.25,"Bh":0.19,"P":-0.04,"Pl":-0.1,"Ph":0.02,"G":-0.165,"Gl":-0.56,"Gh":0.23,"R":-0.037,"Rl":-0.1,"Rh":0.02}
],
"p5":[
{"x":0,"T":-1,"Tl":-3.5,"Th":1.5,"B":-19,"Bl":-20,"Bh":-17,"G":6.5,"Gl":5,"Gh":8,"R":-4,"Rl":-8,"Rh":0},
{"x":1,"T":1.5,"Tl":-1,"Th":4,"B":12.5,"Bl":11,"Bh":14,"G":7.5,"Gl":6,"Gh":9,"R":-4,"Rl":-8,"Rh":0},
{"x":2,"T":0.5,"Tl":-2,"Th":3,"B":11.5,"Bl":10,"Bh":13,"G":8.5,"Gl":7,"Gh":10,"R":0,"Rl":-4,"Rh":4},
{"x":3,"T":0.5,"Tl":-2,"Th":3,"B":12,"Bl":10.5,"Bh":13.5,"G":8.5,"Gl":7,"Gh":10,"R":1.5,"Rl":-2.5,"Rh":5.5},
{"x":4,"T":1.5,"Tl":-1,"Th":4,"B":10.5,"Bl":9,"Bh":12,"G":9,"Gl":7.5,"Gh":10.5,"R":5,"Rl":1,"Rh":9},
{"x":5,"T":1.5,"Tl":-1,"Th":4,"B":12,"Bl":10.5,"Bh":13.5,"G":9.5,"Gl":8,"Gh":11,"R":3.5,"Rl":-0.5,"Rh":7.5},
{"x":6,"T":2.5,"Tl":0,"Th":5,"B":11.5,"Bl":10,"Bh":13,"G":10,"Gl":8.5,"Gh":11.5,"R":3,"Rl":-1,"Rh":7},
{"x":7,"T":2.5,"Tl":0,"Th":5,"B":12.5,"Bl":11,"Bh":14,"G":9.5,"Gl":8,"Gh":11,"R":3,"Rl":-1,"Rh":7},
{"x":8,"T":2.5,"Tl":0,"Th":5,"B":12,"Bl":10.5,"Bh":13.5,"G":9,"Gl":7.5,"Gh":10.5,"R":8,"Rl":4,"Rh":12},
{"x":9,"T":4,"Tl":1.5,"Th":6.5,"B":11,"Bl":9.5,"Bh":12.5,"G":9.5,"Gl":8,"Gh":11,"R":6,"Rl":2,"Rh":10},
{"x":10,"T":9.5,"Tl":8,"Th":11,"B":13,"Bl":11.5,"Bh":14.5,"G":13,"Gl":11.8,"Gh":14.2,"R":11,"Rl":9.5,"Rh":12.5},
{"x":11,"T":10.5,"Tl":9,"Th":12,"B":13.5,"Bl":12,"Bh":15,"G":13,"Gl":11.8,"Gh":14.2,"R":10,"Rl":8.5,"Rh":11.5},
{"x":12,"T":11,"Tl":9.5,"Th":12.5,"B":14,"Bl":12.5,"Bh":15.5,"G":13.5,"Gl":12.3,"Gh":14.7,"R":10.5,"Rl":9,"Rh":12},
{"x":13,"T":11,"Tl":9.5,"Th":12.5,"B":14,"Bl":12.5,"Bh":15.5,"G":13,"Gl":11.8,"Gh":14.2,"R":10.5,"Rl":9,"Rh":12},
{"x":14,"T":10.5,"Tl":9,"Th":12,"B":13.5,"Bl":12,"Bh":15,"G":13.5,"Gl":12.3,"Gh":14.7,"R":10,"Rl":8.5,"Rh":11.5},
{"x":15,"T":10.5,"Tl":9,"Th":12,"B":13,"Bl":11.5,"Bh":14.5,"G":12.5,"Gl":11.3,"Gh":13.7,"R":10,"Rl":8.5,"Rh":11.5},
{"x":16,"T":8.5,"Tl":7,"Th":10,"B":13.5,"Bl":12,"Bh":15,"G":13.5,"Gl":12.3,"Gh":14.7,"R":10.5,"Rl":9,"Rh":12},
{"x":17,"T":11,"Tl":9.5,"Th":12.5,"B":13.5,"Bl":12,"Bh":15,"G":13,"Gl":11.8,"Gh":14.2,"R":10.5,"Rl":9,"Rh":12},
{"x":18,"T":12,"Tl":10.5,"Th":13.5,"B":14.5,"Bl":13,"Bh":16,"G":13.5,"Gl":12.3,"Gh":14.7,"R":10.5,"Rl":9,"Rh":12},
{"x":19,"T":10.5,"Tl":9,"Th":12,"B":12,"Bl":10.5,"Bh":13.5,"G":13.5,"Gl":12.3,"Gh":14.7,"R":10,"Rl":8.5,"Rh":11.5},
{"x":20,"T":3,"Tl":-1,"Th":5,"B":-8,"Bl":-12,"Bh":-4,"G":8.5,"Gl":7,"Gh":10,"R":6,"Rl":3.5,"Rh":8.5},
{"x":21,"T":5.8,"Tl":1.8,"Th":7.8,"B":-10.5,"Bl":-14.5,"Bh":-6.5,"G":10.5,"Gl":9,"Gh":12,"R":7.5,"Rl":5,"Rh":10},
{"x":22,"T":4.5,"Tl":0.5,"Th":6.5,"B":-11,"Bl":-15,"Bh":-7,"G":10,"Gl":8.5,"Gh":11.5,"R":7.5,"Rl":5,"Rh":10},
{"x":23,"T":4.5,"Tl":0.5,"Th":6.5,"B":-13,"Bl":-17,"Bh":-9,"G":10,"Gl":8.5,"Gh":11.5,"R":5,"Rl":2.5,"Rh":7.5},
{"x":24,"T":3,"Tl":-1,"Th":5,"B":-14,"Bl":-18,"Bh":-10,"G":10.5,"Gl":9,"Gh":12,"R":7,"Rl":4.5,"Rh":9.5},
{"x":25,"T":3,"Tl":-1,"Th":5,"B":-9,"Bl":-13,"Bh":-5,"G":8.5,"Gl":7,"Gh":10,"R":7.5,"Rl":5,"Rh":10},
{"x":26,"T":4.5,"Tl":0.5,"Th":6.5,"B":-12.5,"Bl":-16.5,"Bh":-8.5,"G":9.5,"Gl":8,"Gh":11,"R":6,"Rl":3.5,"Rh":8.5},
{"x":27,"T":5,"Tl":1,"Th":7,"B":-12.5,"Bl":-16.5,"Bh":-8.5,"G":10,"Gl":8.5,"Gh":11.5,"R":8,"Rl":5.5,"Rh":10.5},
{"x":28,"T":5.5,"Tl":1.5,"Th":7.5,"B":-10.5,"Bl":-14.5,"Bh":-6.5,"G":9.5,"Gl":8,"Gh":11,"R":6,"Rl":3.5,"Rh":8.5},
{"x":29,"T":6.5,"Tl":2.5,"Th":8.5,"B":-10,"Bl":-14,"Bh":-6,"G":10.5,"Gl":9,"Gh":12,"R":7,"Rl":4.5,"Rh":9.5},
{"x":30,"T":4,"Tl":2,"Th":6,"B":3,"Bl":1,"Bh":5,"G":2.5,"Gl":1,"Gh":4,"R":4,"Rl":1.5,"Rh":6.5},
{"x":31,"T":6.5,"Tl":4.5,"Th":8.5,"B":5.5,"Bl":3.5,"Bh":7.5,"G":7,"Gl":5.5,"Gh":8.5,"R":4,"Rl":1.5,"Rh":6.5},
{"x":32,"T":6,"Tl":4,"Th":8,"B":5,"Bl":3,"Bh":7,"G":7.5,"Gl":6,"Gh":9,"R":7.5,"Rl":5,"Rh":10},
{"x":33,"T":6.5,"Tl":4.5,"Th":8.5,"B":3,"Bl":1,"Bh":5,"G":8.5,"Gl":7,"Gh":10,"R":7,"Rl":4.5,"Rh":9.5},
{"x":34,"T":6.5,"Tl":4.5,"Th":8.5,"B":4,"Bl":2,"Bh":6,"G":9,"Gl":7.5,"Gh":10.5,"R":7,"Rl":4.5,"Rh":9.5},
{"x":35,"T":6,"Tl":4,"Th":8,"B":5,"Bl":3,"Bh":7,"G":8,"Gl":6.5,"Gh":9.5,"R":5,"Rl":2.5,"Rh":7.5},
{"x":36,"T":7,"Tl":5,"Th":9,"B":5.5,"Bl":3.5,"Bh":7.5,"G":8.5,"Gl":7,"Gh":10,"R":6.5,"Rl":4,"Rh":9},
{"x":37,"T":8,"Tl":6,"Th":10,"B":5,"Bl":3,"Bh":7,"G":8.5,"Gl":7,"Gh":10,"R":6,"Rl":3.5,"Rh":8.5},
{"x":38,"T":8,"Tl":6,"Th":10,"B":5,"Bl":3,"Bh":7,"G":9.5,"Gl":8,"Gh":11,"R":8,"Rl":5.5,"Rh":10.5},
{"x":39,"T":8,"Tl":6,"Th":10,"B":8,"Bl":6,"Bh":10,"G":8.5,"Gl":7,"Gh":10,"R":7,"Rl":4.5,"Rh":9.5},
{"x":40,"T":4,"Tl":2,"Th":6,"B":-5,"Bl":-11,"Bh":-3,"G":5,"Gl":3.5,"Gh":6.5,"R":3,"Rl":0,"Rh":6},
{"x":41,"T":5.5,"Tl":3.5,"Th":7.5,"B":-5.5,"Bl":-11.5,"Bh":-3.5,"G":6.5,"Gl":5,"Gh":8,"R":2.5,"Rl":-0.5,"Rh":5.5},
{"x":42,"T":5,"Tl":3,"Th":7,"B":-5,"Bl":-11,"Bh":-3,"G":7,"Gl":5.5,"Gh":8.5,"R":5,"Rl":2,"Rh":8},
{"x":43,"T":6.5,"Tl":4.5,"Th":8.5,"B":-5,"Bl":-11,"Bh":-3,"G":7,"Gl":5.5,"Gh":8.5,"R":5,"Rl":2,"Rh":8},
{"x":44,"T":7,"Tl":5,"Th":9,"B":-5,"Bl":-11,"Bh":-3,"G":8,"Gl":6.5,"Gh":9.5,"R":4,"Rl":1,"Rh":7},
{"x":45,"T":7,"Tl":5,"Th":9,"B":-6.5,"Bl":-12.5,"Bh":-4.5,"G":7.5,"Gl":6,"Gh":9,"R":6,"Rl":3,"Rh":9},
{"x":46,"T":7.5,"Tl":5.5,"Th":9.5,"B":-5,"Bl":-11,"Bh":-3,"G":8,"Gl":6.5,"Gh":9.5,"R":6.5,"Rl":3.5,"Rh":9.5},
{"x":47,"T":8.5,"Tl":6.5,"Th":10.5,"B":-5,"Bl":-11,"Bh":-3,"G":8,"Gl":6.5,"Gh":9.5,"R":6,"Rl":3,"Rh":9},
{"x":48,"T":9,"Tl":7,"Th":11,"B":-4,"Bl":-10,"Bh":-2,"G":7.5,"Gl":6,"Gh":9,"R":7,"Rl":4,"Rh":10},
{"x":49,"T":9,"Tl":7,"Th":11,"B":-4,"Bl":-10,"Bh":-2,"G":9.5,"Gl":8,"Gh":11,"R":3,"Rl":-2,"Rh":8}
],
"p6":[
{"x":0,"T":-85,"Tl":-93,"Th":-77,"B":-100,"Bl":-105,"Bh":-95,"G":-85,"Gl":-89,"Gh":-81,"R":-70,"Rl":-80,"Rh":-60},
{"x":1,"T":-80,"Tl":-88,"Th":-72,"B":-105,"Bl":-110,"Bh":-100,"G":-87,"Gl":-91,"Gh":-83,"R":-45,"Rl":-75,"Rh":-20},
{"x":2,"T":-82,"Tl":-90,"Th":-74,"B":-108,"Bl":-113,"Bh":-103,"G":-86,"Gl":-90,"Gh":-82,"R":-30,"Rl":-60,"Rh":0},
{"x":3,"T":-80,"Tl":-88,"Th":-72,"B":-108,"Bl":-113,"Bh":-103,"G":-90,"Gl":-94,"Gh":-86,"R":-25,"Rl":-55,"Rh":5},
{"x":4,"T":-78,"Tl":-86,"Th":-70,"B":-110,"Bl":-115,"Bh":-105,"G":-88,"Gl":-92,"Gh":-84,"R":-20,"Rl":-45,"Rh":5},
{"x":5,"T":-77,"Tl":-86,"Th":-68,"B":-108,"Bl":-113,"Bh":-103,"G":-86,"Gl":-90,"Gh":-82,"R":-20,"Rl":-40,"Rh":0},
{"x":6,"T":-72,"Tl":-82,"Th":-62,"B":-108,"Bl":-113,"Bh":-103,"G":-84,"Gl":-88,"Gh":-80,"R":-12,"Rl":-22,"Rh":-2},
{"x":7,"T":-70,"Tl":-82,"Th":-58,"B":-110,"Bl":-115,"Bh":-105,"G":-86,"Gl":-90,"Gh":-82,"R":-5,"Rl":-12,"Rh":2},
{"x":8,"T":-72,"Tl":-84,"Th":-60,"B":-112,"Bl":-117,"Bh":-107,"G":-86,"Gl":-90,"Gh":-82,"R":-8,"Rl":-14,"Rh":-2},
{"x":9,"T":-65,"Tl":-78,"Th":-52,"B":-110,"Bl":-115,"Bh":-105,"G":-85,"Gl":-89,"Gh":-81,"R":-12,"Rl":-17,"Rh":-7},
{"x":10,"T":2,"Tl":-1,"Th":5,"B":10,"Bl":8,"Bh":12,"G":0,"Gl":-2,"Gh":2,"R":-13,"Rl":-18,"Rh":-8},
{"x":11,"T":1,"Tl":-2,"Th":4,"B":10,"Bl":8,"Bh":12,"G":1,"Gl":-1,"Gh":3,"R":-10,"Rl":-15,"Rh":-5},
{"x":12,"T":3,"Tl":0,"Th":6,"B":10,"Bl":8,"Bh":12,"G":2,"Gl":0,"Gh":4,"R":-15,"Rl":-20,"Rh":-10},
{"x":13,"T":2,"Tl":-1,"Th":5,"B":10,"Bl":8,"Bh":12,"G":1,"Gl":-1,"Gh":3,"R":-12,"Rl":-17,"Rh":-7},
{"x":14,"T":4,"Tl":1,"Th":7,"B":9,"Bl":7,"Bh":11,"G":2,"Gl":0,"Gh":4,"R":-12,"Rl":-17,"Rh":-7},
{"x":15,"T":3,"Tl":0,"Th":6,"B":10,"Bl":8,"Bh":12,"G":0,"Gl":-2,"Gh":2,"R":-17,"Rl":-22,"Rh":-12},
{"x":16,"T":6,"Tl":3,"Th":9,"B":11,"Bl":9,"Bh":13,"G":2,"Gl":0,"Gh":4,"R":-12,"Rl":-17,"Rh":-7},
{"x":17,"T":5,"Tl":2,"Th":8,"B":10,"Bl":8,"Bh":12,"G":1,"Gl":-1,"Gh":3,"R":-13,"Rl":-18,"Rh":-8},
{"x":18,"T":6,"Tl":3,"Th":9,"B":12,"Bl":10,"Bh":14,"G":2,"Gl":0,"Gh":4,"R":-12,"Rl":-17,"Rh":-7},
{"x":19,"T":5,"Tl":2,"Th":8,"B":11,"Bl":9,"Bh":13,"G":3,"Gl":1,"Gh":5,"R":-11,"Rl":-16,"Rh":-6},
{"x":20,"T":-12,"Tl":-18,"Th":-6,"B":-25,"Bl":-31,"Bh":-19,"G":-43,"Gl":-47,"Gh":-39,"R":-13,"Rl":-17,"Rh":-9},
{"x":21,"T":-8,"Tl":-14,"Th":-2,"B":-35,"Bl":-41,"Bh":-29,"G":-42,"Gl":-46,"Gh":-38,"R":-12,"Rl":-16,"Rh":-8},
{"x":22,"T":-10,"Tl":-16,"Th":-4,"B":-30,"Bl":-36,"Bh":-24,"G":-42,"Gl":-46,"Gh":-38,"R":-11,"Rl":-15,"Rh":-7},
{"x":23,"T":-5,"Tl":-11,"Th":1,"B":-32,"Bl":-38,"Bh":-26,"G":-45,"Gl":-49,"Gh":-41,"R":-12,"Rl":-16,"Rh":-8},
{"x":24,"T":-3,"Tl":-9,"Th":3,"B":-30,"Bl":-36,"Bh":-24,"G":-43,"Gl":-47,"Gh":-39,"R":-13,"Rl":-17,"Rh":-9},
{"x":25,"T":-5,"Tl":-11,"Th":1,"B":-35,"Bl":-41,"Bh":-29,"G":-43,"Gl":-47,"Gh":-39,"R":-13,"Rl":-17,"Rh":-9},
{"x":26,"T":-1,"Tl":-7,"Th":5,"B":-32,"Bl":-38,"Bh":-26,"G":-44,"Gl":-48,"Gh":-40,"R":-11,"Rl":-15,"Rh":-7},
{"x":27,"T":-5,"Tl":-11,"Th":1,"B":-33,"Bl":-39,"Bh":-27,"G":-42,"Gl":-46,"Gh":-38,"R":-12,"Rl":-16,"Rh":-8},
{"x":28,"T":0,"Tl":-6,"Th":6,"B":-30,"Bl":-36,"Bh":-24,"G":-44,"Gl":-48,"Gh":-40,"R":-13,"Rl":-17,"Rh":-9},
{"x":29,"T":-2,"Tl":-8,"Th":4,"B":-32,"Bl":-38,"Bh":-26,"G":-40,"Gl":-44,"Gh":-36,"R":-10,"Rl":-14,"Rh":-6},
{"x":30,"T":-58,"Tl":-78,"Th":-46,"B":-122,"Bl":-127,"Bh":-117,"G":-60,"Gl":-68,"Gh":-52,"R":-18,"Rl":-22,"Rh":-14},
{"x":31,"T":-55,"Tl":-75,"Th":-43,"B":-122,"Bl":-127,"Bh":-117,"G":-55,"Gl":-63,"Gh":-47,"R":-10,"Rl":-14,"Rh":-6},
{"x":32,"T":-63,"Tl":-83,"Th":-51,"B":-123,"Bl":-128,"Bh":-118,"G":-48,"Gl":-56,"Gh":-40,"R":-9,"Rl":-13,"Rh":-5},
{"x":33,"T":-55,"Tl":-75,"Th":-43,"B":-120,"Bl":-130,"Bh":-105,"G":-42,"Gl":-50,"Gh":-34,"R":-10,"Rl":-14,"Rh":-6},
{"x":34,"T":-50,"Tl":-70,"Th":-38,"B":-80,"Bl":-140,"Bh":-20,"G":-40,"Gl":-48,"Gh":-32,"R":-10,"Rl":-14,"Rh":-6},
{"x":35,"T":-46,"Tl":-66,"Th":-34,"B":-30,"Bl":-100,"Bh":10,"G":-40,"Gl":-48,"Gh":-32,"R":-12,"Rl":-16,"Rh":-8},
{"x":36,"T":-42,"Tl":-62,"Th":-30,"B":-10,"Bl":-20,"Bh":0,"G":-42,"Gl":-50,"Gh":-34,"R":-10,"Rl":-14,"Rh":-6},
{"x":37,"T":-38,"Tl":-58,"Th":-26,"B":-10,"Bl":-15,"Bh":-5,"G":-40,"Gl":-48,"Gh":-32,"R":-6,"Rl":-10,"Rh":-2},
{"x":38,"T":-33,"Tl":-53,"Th":-21,"B":-8,"Bl":-13,"Bh":-3,"G":-38,"Gl":-46,"Gh":-30,"R":-7,"Rl":-11,"Rh":-3},
{"x":39,"T":-30,"Tl":-50,"Th":-18,"B":-8,"Bl":-13,"Bh":-3,"G":-38,"Gl":-46,"Gh":-30,"R":-8,"Rl":-12,"Rh":-4},
{"x":40,"T":-28,"Tl":-38,"Th":-20,"B":-7,"Bl":-11,"Bh":-3,"G":-40,"Gl":-45,"Gh":-35,"R":-7,"Rl":-11,"Rh":-3},
{"x":41,"T":-26,"Tl":-36,"Th":-18,"B":-8,"Bl":-12,"Bh":-4,"G":-36,"Gl":-41,"Gh":-31,"R":-9,"Rl":-13,"Rh":-5},
{"x":42,"T":-22,"Tl":-32,"Th":-14,"B":-10,"Bl":-14,"Bh":-6,"G":-38,"Gl":-43,"Gh":-33,"R":-10,"Rl":-14,"Rh":-6},
{"x":43,"T":-24,"Tl":-34,"Th":-16,"B":-5,"Bl":-9,"Bh":-1,"G":-35,"Gl":-40,"Gh":-30,"R":-7,"Rl":-11,"Rh":-3},
{"x":44,"T":-25,"Tl":-35,"Th":-17,"B":-6,"Bl":-10,"Bh":-2,"G":-33,"Gl":-38,"Gh":-28,"R":-8,"Rl":-12,"Rh":-4},
{"x":45,"T":-20,"Tl":-30,"Th":-12,"B":-8,"Bl":-12,"Bh":-4,"G":-32,"Gl":-37,"Gh":-27,"R":-9,"Rl":-13,"Rh":-5},
{"x":46,"T":-20,"Tl":-30,"Th":-12,"B":-9,"Bl":-13,"Bh":-5,"G":-38,"Gl":-43,"Gh":-33,"R":-10,"Rl":-14,"Rh":-6},
{"x":47,"T":-22,"Tl":-32,"Th":-14,"B":-7,"Bl":-11,"Bh":-3,"G":-30,"Gl":-35,"Gh":-25,"R":-8,"Rl":-12,"Rh":-4},
{"x":48,"T":-20,"Tl":-30,"Th":-12,"B":-8,"Bl":-12,"Bh":-4,"G":-32,"Gl":-37,"Gh":-27,"R":-9,"Rl":-13,"Rh":-5},
{"x":49,"T":-22,"Tl":-32,"Th":-14,"B":-10,"Bl":-14,"Bh":-6,"G":-34,"Gl":-39,"Gh":-29,"R":-8,"Rl":-12,"Rh":-4}
],
"p7":[
{"x":0,"T":-36,"Tl":-46,"Th":-26,"B":-95,"Bl":-102,"Bh":-88,"G":-60,"Gl":-63,"Gh":-57,"R":-16,"Rl":-20,"Rh":-12},
{"x":1,"T":-34,"Tl":-44,"Th":-24,"B":-45,"Bl":-52,"Bh":-38,"G":-60,"Gl":-63,"Gh":-57,"R":-16,"Rl":-20,"Rh":-12},
{"x":2,"T":-33,"Tl":-43,"Th":-23,"B":-31,"Bl":-38,"Bh":-24,"G":-53,"Gl":-56,"Gh":-50,"R":-13,"Rl":-17,"Rh":-9},
{"x":3,"T":-33,"Tl":-43,"Th":-23,"B":-37,"Bl":-44,"Bh":-30,"G":-49,"Gl":-52,"Gh":-46,"R":-16,"Rl":-20,"Rh":-12},
{"x":4,"T":-27,"Tl":-37,"Th":-17,"B":-33,"Bl":-40,"Bh":-26,"G":-50,"Gl":-53,"Gh":-47,"R":-12,"Rl":-16,"Rh":-8},
{"x":5,"T":-26,"Tl":-36,"Th":-16,"B":-32,"Bl":-39,"Bh":-25,"G":-47,"Gl":-50,"Gh":-44,"R":-15,"Rl":-19,"Rh":-11},
{"x":6,"T":-20,"Tl":-30,"Th":-10,"B":-32,"Bl":-39,"Bh":-25,"G":-47,"Gl":-50,"Gh":-44,"R":-16,"Rl":-20,"Rh":-12},
{"x":7,"T":-23,"Tl":-33,"Th":-13,"B":-35,"Bl":-42,"Bh":-28,"G":-47,"Gl":-50,"Gh":-44,"R":-12,"Rl":-16,"Rh":-8},
{"x":8,"T":-20,"Tl":-30,"Th":-10,"B":-33,"Bl":-40,"Bh":-26,"G":-50,"Gl":-53,"Gh":-47,"R":-15,"Rl":-19,"Rh":-11},
{"x":9,"T":-20,"Tl":-30,"Th":-10,"B":-22,"Bl":-29,"Bh":-15,"G":-50,"Gl":-53,"Gh":-47,"R":-14,"Rl":-18,"Rh":-10},
{"x":10,"T":7,"Tl":5.5,"Th":8.5,"B":12,"Bl":10,"Bh":14,"G":12,"Gl":10.5,"Gh":13.5,"R":0,"Rl":-3,"Rh":3},
{"x":11,"T":7,"Tl":5.5,"Th":8.5,"B":12,"Bl":10,"Bh":14,"G":12,"Gl":10.5,"Gh":13.5,"R":-1,"Rl":-4,"Rh":2},
{"x":12,"T":8,"Tl":6.5,"Th":9.5,"B":13,"Bl":11,"Bh":15,"G":12,"Gl":10.5,"Gh":13.5,"R":-1,"Rl":-4,"Rh":2},
{"x":13,"T":7,"Tl":5.5,"Th":8.5,"B":13,"Bl":11,"Bh":15,"G":13,"Gl":11.5,"Gh":14.5,"R":-3,"Rl":-6,"Rh":0},
{"x":14,"T":7,"Tl":5.5,"Th":8.5,"B":14,"Bl":12,"Bh":16,"G":13,"Gl":11.5,"Gh":14.5,"R":-1,"Rl":-4,"Rh":2},
{"x":15,"T":8,"Tl":6.5,"Th":9.5,"B":13,"Bl":11,"Bh":15,"G":13,"Gl":11.5,"Gh":14.5,"R":-2,"Rl":-5,"Rh":1},
{"x":16,"T":7,"Tl":5.5,"Th":8.5,"B":13,"Bl":11,"Bh":15,"G":13,"Gl":11.5,"Gh":14.5,"R":-1,"Rl":-4,"Rh":2},
{"x":17,"T":8,"Tl":6.5,"Th":9.5,"B":13,"Bl":11,"Bh":15,"G":13,"Gl":11.5,"Gh":14.5,"R":-1,"Rl":-4,"Rh":2},
{"x":18,"T":9,"Tl":7.5,"Th":10.5,"B":12,"Bl":10,"Bh":14,"G":13,"Gl":11.5,"Gh":14.5,"R":-1,"Rl":-4,"Rh":2},
{"x":19,"T":8,"Tl":6.5,"Th":9.5,"B":12,"Bl":10,"Bh":14,"G":13,"Gl":11.5,"Gh":14.5,"R":1,"Rl":-2,"Rh":4},
{"x":20,"T":-22,"Tl":-31,"Th":-13,"B":-84,"Bl":-87,"Bh":-81,"G":-55,"Gl":-60,"Gh":-50,"R":-17,"Rl":-21,"Rh":-13},
{"x":21,"T":-16,"Tl":-25,"Th":-7,"B":-85,"Bl":-88,"Bh":-82,"G":-52,"Gl":-57,"Gh":-47,"R":-13,"Rl":-17,"Rh":-9},
{"x":22,"T":-19,"Tl":-28,"Th":-10,"B":-84,"Bl":-87,"Bh":-81,"G":-48,"Gl":-53,"Gh":-43,"R":-12,"Rl":-16,"Rh":-8},
{"x":23,"T":-17,"Tl":-26,"Th":-8,"B":-86,"Bl":-89,"Bh":-83,"G":-47,"Gl":-52,"Gh":-42,"R":-12,"Rl":-16,"Rh":-8},
{"x":24,"T":-15,"Tl":-24,"Th":-6,"B":-85,"Bl":-88,"Bh":-82,"G":-47,"Gl":-52,"Gh":-42,"R":-11,"Rl":-15,"Rh":-7},
{"x":25,"T":-14,"Tl":-23,"Th":-5,"B":-87,"Bl":-90,"Bh":-84,"G":-44,"Gl":-49,"Gh":-39,"R":-13,"Rl":-17,"Rh":-9},
{"x":26,"T":-9,"Tl":-18,"Th":0,"B":-88,"Bl":-91,"Bh":-85,"G":-43,"Gl":-48,"Gh":-38,"R":-14,"Rl":-18,"Rh":-10},
{"x":27,"T":-7,"Tl":-16,"Th":2,"B":-85,"Bl":-88,"Bh":-82,"G":-42,"Gl":-47,"Gh":-37,"R":-11,"Rl":-15,"Rh":-7},
{"x":28,"T":-7,"Tl":-16,"Th":2,"B":-86,"Bl":-89,"Bh":-83,"G":-42,"Gl":-47,"Gh":-37,"R":-12,"Rl":-16,"Rh":-8},
{"x":29,"T":-8,"Tl":-17,"Th":1,"B":-84,"Bl":-87,"Bh":-81,"G":-43,"Gl":-48,"Gh":-38,"R":-10,"Rl":-14,"Rh":-6},
{"x":30,"T":-27,"Tl":-47,"Th":-19,"B":-101,"Bl":-104,"Bh":-98,"G":-82,"Gl":-86,"Gh":-78,"R":-7,"Rl":-11,"Rh":-3},
{"x":31,"T":-22,"Tl":-42,"Th":-14,"B":-98,"Bl":-101,"Bh":-95,"G":-86,"Gl":-90,"Gh":-82,"R":-8,"Rl":-12,"Rh":-4},
{"x":32,"T":-16,"Tl":-36,"Th":-8,"B":-98,"Bl":-101,"Bh":-95,"G":-89,"Gl":-93,"Gh":-85,"R":-10,"Rl":-14,"Rh":-6},
{"x":33,"T":-14,"Tl":-34,"Th":-6,"B":-97,"Bl":-100,"Bh":-94,"G":-82,"Gl":-86,"Gh":-78,"R":-7,"Rl":-11,"Rh":-3},
{"x":34,"T":-10,"Tl":-30,"Th":-2,"B":-98,"Bl":-101,"Bh":-95,"G":-87,"Gl":-91,"Gh":-83,"R":-12,"Rl":-16,"Rh":-8},
{"x":35,"T":-10,"Tl":-30,"Th":-2,"B":-99,"Bl":-102,"Bh":-96,"G":-86,"Gl":-90,"Gh":-82,"R":-9,"Rl":-13,"Rh":-5},
{"x":36,"T":-8,"Tl":-28,"Th":0,"B":-95,"Bl":-98,"Bh":-92,"G":-84,"Gl":-88,"Gh":-80,"R":-8,"Rl":-12,"Rh":-4},
{"x":37,"T":-7,"Tl":-27,"Th":1,"B":-98,"Bl":-101,"Bh":-95,"G":-84,"Gl":-88,"Gh":-80,"R":-8,"Rl":-12,"Rh":-4},
{"x":38,"T":-7,"Tl":-27,"Th":1,"B":-99,"Bl":-102,"Bh":-96,"G":-85,"Gl":-89,"Gh":-81,"R":-7,"Rl":-11,"Rh":-3},
{"x":39,"T":-1,"Tl":-21,"Th":7,"B":-97,"Bl":-100,"Bh":-94,"G":-85,"Gl":-89,"Gh":-81,"R":-7,"Rl":-11,"Rh":-3},
{"x":40,"T":-16,"Tl":-24,"Th":-8,"B":5,"Bl":3,"Bh":7,"G":3,"Gl":1,"Gh":5,"R":-8,"Rl":-11,"Rh":-5},
{"x":41,"T":-18,"Tl":-26,"Th":-10,"B":5,"Bl":3,"Bh":7,"G":5,"Gl":3,"Gh":7,"R":-3,"Rl":-6,"Rh":0},
{"x":42,"T":-13,"Tl":-21,"Th":-5,"B":5,"Bl":3,"Bh":7,"G":7,"Gl":5,"Gh":9,"R":-4,"Rl":-7,"Rh":-1},
{"x":43,"T":-10,"Tl":-18,"Th":-2,"B":5,"Bl":3,"Bh":7,"G":8,"Gl":6,"Gh":10,"R":-5,"Rl":-8,"Rh":-2},
{"x":44,"T":-7,"Tl":-15,"Th":1,"B":5,"Bl":3,"Bh":7,"G":7,"Gl":5,"Gh":9,"R":-3,"Rl":-6,"Rh":0},
{"x":45,"T":-5,"Tl":-13,"Th":3,"B":5,"Bl":3,"Bh":7,"G":7,"Gl":5,"Gh":9,"R":-2,"Rl":-5,"Rh":1},
{"x":46,"T":-5,"Tl":-13,"Th":3,"B":5,"Bl":3,"Bh":7,"G":7,"Gl":5,"Gh":9,"R":-5,"Rl":-8,"Rh":-2},
{"x":47,"T":-5,"Tl":-13,"Th":3,"B":4,"Bl":2,"Bh":6,"G":7,"Gl":5,"Gh":9,"R":-3,"Rl":-6,"Rh":0},
{"x":48,"T":-4,"Tl":-12,"Th":4,"B":3,"Bl":1,"Bh":5,"G":8,"Gl":6,"Gh":10,"R":-4,"Rl":-7,"Rh":-1},
{"x":49,"T":-4,"Tl":-12,"Th":4,"B":6,"Bl":4,"Bh":8,"G":7,"Gl":5,"Gh":9,"R":-5,"Rl":-8,"Rh":-2}
],
"p8":[
{"x":0,"T":-138,"Tl":-193,"Th":-98,"D":-122,"Dl":-167,"Dh":-77,"L":-106,"Ll":-180,"Lh":-66,"B":-196,"Bl":-260,"Bh":-130,"P":-70,"Pl":-105,"Ph":-40,"G":-112,"Gl":-162,"Gh":-62,"R":-104,"Rl":-139,"Rh":-50},
{"x":50,"T":-156,"Tl":-211,"Th":-116,"D":-134,"Dl":-179,"Dh":-89,"L":-126,"Ll":-205,"Lh":-86,"B":-210,"Bl":-280,"Bh":-140,"P":-75,"Pl":-110,"Ph":-42,"G":-120,"Gl":-170,"Gh":-70,"R":-102,"Rl":-137,"Rh":-55},
{"x":100,"T":-141,"Tl":-196,"Th":-101,"D":-143,"Dl":-188,"Dh":-98,"L":-161,"Ll":-245,"Lh":-121,"B":-217,"Bl":-290,"Bh":-145,"P":-79,"Pl":-114,"Ph":-45,"G":-141,"Gl":-191,"Gh":-91,"R":-85,"Rl":-122,"Rh":-50},
{"x":150,"T":-144,"Tl":-199,"Th":-104,"D":-149,"Dl":-194,"Dh":-104,"L":-182,"Ll":-270,"Lh":-142,"B":-229,"Bl":-300,"Bh":-160,"P":-83,"Pl":-118,"Ph":-48,"G":-151,"Gl":-201,"Gh":-101,"R":-98,"Rl":-133,"Rh":-63},
{"x":200,"T":-149,"Tl":-204,"Th":-109,"D":-160,"Dl":-205,"Dh":-115,"L":-188,"Ll":-278,"Lh":-148,"B":-247,"Bl":-320,"Bh":-175,"P":-84,"Pl":-119,"Ph":-49,"G":-159,"Gl":-209,"Gh":-109,"R":-112,"Rl":-147,"Rh":-77},
{"x":250,"T":-148,"Tl":-203,"Th":-108,"D":-177,"Dl":-222,"Dh":-132,"L":-203,"Ll":-293,"Lh":-163,"B":-267,"Bl":-340,"Bh":-195,"P":-102,"Pl":-137,"Ph":-67,"G":-167,"Gl":-217,"Gh":-117,"R":-109,"Rl":-144,"Rh":-74},
{"x":300,"T":-143,"Tl":-198,"Th":-103,"D":-210,"Dl":-255,"Dh":-165,"L":-212,"Ll":-302,"Lh":-172,"B":-298,"Bl":-375,"Bh":-225,"P":-104,"Pl":-139,"Ph":-69,"G":-185,"Gl":-235,"Gh":-135,"R":-96,"Rl":-131,"Rh":-61},
{"x":350,"T":-114,"Tl":-169,"Th":-60,"D":-195,"Dl":-240,"Dh":-150,"L":-239,"Ll":-329,"Lh":-199,"B":-300,"Bl":-375,"Bh":-225,"P":-98,"Pl":-133,"Ph":-63,"G":-188,"Gl":-238,"Gh":-138,"R":-97,"Rl":-132,"Rh":-62},
{"x":400,"T":-126,"Tl":-181,"Th":-86,"D":-195,"Dl":-240,"Dh":-150,"L":-259,"Ll":-349,"Lh":-219,"B":-294,"Bl":-370,"Bh":-220,"P":-100,"Pl":-135,"Ph":-65,"G":-192,"Gl":-242,"Gh":-142,"R":-98,"Rl":-133,"Rh":-63},
{"x":450,"T":-130,"Tl":-185,"Th":-90,"D":-228,"Dl":-273,"Dh":-183,"L":-279,"Ll":-369,"Lh":-239,"B":-333,"Bl":-420,"Bh":-250,"P":-100,"Pl":-135,"Ph":-65,"G":-206,"Gl":-256,"Gh":-156,"R":-120,"Rl":-155,"Rh":-85},
{"x":500,"T":-126,"Tl":-181,"Th":-86,"D":-214,"Dl":-259,"Dh":-169,"L":-277,"Ll":-367,"Lh":-200,"B":-282,"Bl":-370,"Bh":-200,"P":-102,"Pl":-137,"Ph":-67,"G":-210,"Gl":-260,"Gh":-160,"R":-104,"Rl":-139,"Rh":-69},
{"x":550,"T":-140,"Tl":-200,"Th":-100,"D":-246,"Dl":-291,"Dh":-201,"L":-282,"Ll":-372,"Lh":-230,"B":-339,"Bl":-450,"Bh":-270,"P":-104,"Pl":-139,"Ph":-69,"G":-232,"Gl":-282,"Gh":-182,"R":-105,"Rl":-140,"Rh":-70},
{"x":600,"T":-143,"Tl":-205,"Th":-103,"D":-267,"Dl":-312,"Dh":-222,"L":-294,"Ll":-384,"Lh":-220,"B":-314,"Bl":-400,"Bh":-240,"P":-114,"Pl":-149,"Ph":-79,"G":-239,"Gl":-289,"Gh":-189,"R":-102,"Rl":-137,"Rh":-67},
{"x":650,"T":-124,"Tl":-185,"Th":-84,"D":-267,"Dl":-312,"Dh":-222,"L":-286,"Ll":-376,"Lh":-190,"B":-297,"Bl":-380,"Bh":-230,"P":-105,"Pl":-140,"Ph":-70,"G":-245,"Gl":-295,"Gh":-195,"R":-92,"Rl":-127,"Rh":-57},
{"x":700,"T":-112,"Tl":-167,"Th":-72,"D":-294,"Dl":-339,"Dh":-249,"L":-308,"Ll":-398,"Lh":-250,"B":-333,"Bl":-410,"Bh":-260,"P":-112,"Pl":-147,"Ph":-77,"G":-255,"Gl":-305,"Gh":-205,"R":-114,"Rl":-149,"Rh":-79},
{"x":750,"T":-120,"Tl":-175,"Th":-80,"D":-304,"Dl":-349,"Dh":-259,"L":-304,"Ll":-394,"Lh":-260,"B":-332,"Bl":-410,"Bh":-260,"P":-122,"Pl":-157,"Ph":-87,"G":-257,"Gl":-307,"Gh":-207,"R":-120,"Rl":-155,"Rh":-85},
{"x":800,"T":-112,"Tl":-167,"Th":-72,"D":-308,"Dl":-353,"Dh":-263,"L":-333,"Ll":-440,"Lh":-280,"B":-343,"Bl":-420,"Bh":-270,"P":-124,"Pl":-159,"Ph":-89,"G":-260,"Gl":-310,"Gh":-205,"R":-108,"Rl":-143,"Rh":-73},
{"x":850,"T":-106,"Tl":-161,"Th":-66,"D":-322,"Dl":-367,"Dh":-277,"L":-322,"Ll":-420,"Lh":-280,"B":-353,"Bl":-430,"Bh":-280,"P":-122,"Pl":-157,"Ph":-87,"G":-261,"Gl":-311,"Gh":-205,"R":-110,"Rl":-145,"Rh":-75},
{"x":900,"T":-106,"Tl":-161,"Th":-60,"D":-310,"Dl":-355,"Dh":-265,"L":-324,"Ll":-425,"Lh":-280,"B":-380,"Bl":-460,"Bh":-300,"P":-130,"Pl":-165,"Ph":-95,"G":-263,"Gl":-313,"Gh":-200,"R":-120,"Rl":-155,"Rh":-85},
{"x":950,"T":-112,"Tl":-167,"Th":-80,"D":-314,"Dl":-359,"Dh":-269,"L":-331,"Ll":-440,"Lh":-290,"B":-347,"Bl":-420,"Bh":-280,"P":-134,"Pl":-169,"Ph":-99,"G":-275,"Gl":-325,"Gh":-215,"R":-119,"Rl":-154,"Rh":-84}
]
},
"columns":4,
"bounds":"flush",
"spacing":{"row":83,"column":62},
"resolve":{"scale":{"color":"independent"}},
"concat":[
{"title":"seen","width":263,"height":196,"data":{"name":"p1"},
"encoding":{"x":{"field":"x","type":"quantitative","scale":{"domain":[0,49],"nice":false,"zero":false},"axis":{"title":"Opponents","values":[5,15,25,35,45],"tickCount":20,"labelFontSize":13,"labelExpr":"['o5','o5','o3','o7','o5'][floor(datum.value/10)]"}}},
"layer":[
{"mark":{"type":"area","color":"#2a84c6"},"encoding":{"y":{"field":"Tl","type":"quantitative","scale":{"domain":[-0.48,0.19],"nice":false,"zero":false},"axis":{"title":"Returns","values":[-0.4,-0.3,-0.2,-0.1,0,0.1],"tickCount":20,"labelExpr":"replace(format(datum.value,'.1f'),'-','−')"}},"y2":{"field":"Th"}}},
{"mark":{"type":"area","color":"#708090"},"encoding":{"y":{"field":"Bl","type":"quantitative"},"y2":{"field":"Bh"}}},
{"mark":{"type":"area","color":"#9b30a8"},"encoding":{"y":{"field":"Gl","type":"quantitative"},"y2":{"field":"Gh"}}},
{"mark":{"type":"area","color":"#ff2b2b"},"encoding":{"y":{"field":"Rl","type":"quantitative"},"y2":{"field":"Rh"}}},
{"data":{"values":[{"x":10},{"x":20},{"x":30},{"x":40}]},"mark":"rule","encoding":{}},
{"mark":"line","encoding":{"y":{"field":"T","type":"quantitative"},"color":{"datum":"Tracking","type":"nominal","scale":{"domain":["Tracking","Deep BPR+","GSCU-Greedy(Ours)","GSCU(Ours)"],"range":["#2a84c6","#708090","#9b30a8","#ff2b2b"]},"legend":{"title":null,"orient":"bottom-right"}}}},
{"mark":"line","encoding":{"y":{"field":"B","type":"quantitative"},"color":{"datum":"Deep BPR+","type":"nominal"}}},
{"mark":"line","encoding":{"y":{"field":"G","type":"quantitative"},"color":{"datum":"GSCU-Greedy(Ours)","type":"nominal"}}},
{"mark":"line","encoding":{"y":{"field":"R","type":"quantitative"},"color":{"datum":"GSCU(Ours)","type":"nominal"}}}
]},
{"title":"unseen","width":263,"height":196,"data":{"name":"p2"},
"encoding":{"x":{"field":"x","type":"quantitative","scale":{"domain":[0,49],"nice":false,"zero":false},"axis":{"title":"Opponents","values":[5,15,25,35,45],"tickCount":20,"labelFontSize":13,"labelExpr":"['o2','o4','o4','o6','o2'][floor(datum.value/10)]"}}},
"layer":[
{"mark":{"type":"area","color":"#2a84c6"},"encoding":{"y":{"field":"Tl","type":"quantitative","scale":{"domain":[-0.289,0.084],"nice":false,"zero":false},"axis":{"title":"Returns","values":[-0.25,-0.2,-0.15,-0.1,-0.05,0,0.05],"tickCount":20,"labelExpr":"replace(format(datum.value,'.2f'),'-','−')"}},"y2":{"field":"Th"}}},
{"mark":{"type":"area","color":"#708090"},"encoding":{"y":{"field":"Bl","type":"quantitative"},"y2":{"field":"Bh"}}},
{"mark":{"type":"area","color":"#9b30a8"},"encoding":{"y":{"field":"Gl","type":"quantitative"},"y2":{"field":"Gh"}}},
{"mark":{"type":"area","color":"#ff2b2b"},"encoding":{"y":{"field":"Rl","type":"quantitative"},"y2":{"field":"Rh"}}},
{"data":{"values":[{"x":10},{"x":20},{"x":30},{"x":40}]},"mark":"rule","encoding":{}},
{"mark":"line","encoding":{"y":{"field":"T","type":"quantitative"},"color":{"datum":"Tracking","type":"nominal","scale":{"domain":["Tracking","Deep BPR+","GSCU-Greedy(Ours)","GSCU(Ours)"],"range":["#2a84c6","#708090","#9b30a8","#ff2b2b"]},"legend":{"title":null,"orient":"bottom-right"}}}},
{"mark":"line","encoding":{"y":{"field":"B","type":"quantitative"},"color":{"datum":"Deep BPR+","type":"nominal"}}},
{"mark":"line","encoding":{"y":{"field":"G","type":"quantitative"},"color":{"datum":"GSCU-Greedy(Ours)","type":"nominal"}}},
{"mark":"line","encoding":{"y":{"field":"R","type":"quantitative"},"color":{"datum":"GSCU(Ours)","type":"nominal"}}}
]},
{"title":"mix","width":263,"height":196,"data":{"name":"p3"},
"encoding":{"x":{"field":"x","type":"quantitative","scale":{"domain":[0,49],"nice":false,"zero":false},"axis":{"title":"Opponents","values":[5,15,25,35,45],"tickCount":20,"labelFontSize":13,"labelExpr":"['o2','o3','o7','o4','o3'][floor(datum.value/10)]"}}},
"layer":[
{"mark":{"type":"area","color":"#2a84c6"},"encoding":{"y":{"field":"Tl","type":"quantitative","scale":{"domain":[-0.432,0.177],"nice":false,"zero":false},"axis":{"title":"Returns","values":[-0.4,-0.3,-0.2,-0.1,0,0.1],"tickCount":20,"labelExpr":"replace(format(datum.value,'.1f'),'-','−')"}},"y2":{"field":"Th"}}},
{"mark":{"type":"area","color":"#708090"},"encoding":{"y":{"field":"Bl","type":"quantitative"},"y2":{"field":"Bh"}}},
{"mark":{"type":"area","color":"#9b30a8"},"encoding":{"y":{"field":"Gl","type":"quantitative"},"y2":{"field":"Gh"}}},
{"mark":{"type":"area","color":"#ff2b2b"},"encoding":{"y":{"field":"Rl","type":"quantitative"},"y2":{"field":"Rh"}}},
{"data":{"values":[{"x":10},{"x":20},{"x":30},{"x":40}]},"mark":"rule","encoding":{}},
{"mark":"line","encoding":{"y":{"field":"T","type":"quantitative"},"color":{"datum":"Tracking","type":"nominal","scale":{"domain":["Tracking","Deep BPR+","GSCU-Greedy(Ours)","GSCU(Ours)"],"range":["#2a84c6","#708090","#9b30a8","#ff2b2b"]},"legend":{"title":null,"orient":"bottom-right"}}}},
{"mark":"line","encoding":{"y":{"field":"B","type":"quantitative"},"color":{"datum":"Deep BPR+","type":"nominal"}}},
{"mark":"line","encoding":{"y":{"field":"G","type":"quantitative"},"color":{"datum":"GSCU-Greedy(Ours)","type":"nominal"}}},
{"mark":"line","encoding":{"y":{"field":"R","type":"quantitative"},"color":{"datum":"GSCU(Ours)","type":"nominal"}}}
]},
{"title":"adaptive","width":263,"height":196,"data":{"name":"p4"},
"encoding":{"x":{"field":"x","type":"quantitative","scale":{"domain":[0,4500],"nice":false,"zero":false},"axis":{"title":"Episodes","values":[0,1000,2000,3000,4000],"tickCount":20,"format":"d"}}},
"layer":[
{"mark":{"type":"area","color":"#2a84c6"},"encoding":{"y":{"field":"Tl","type":"quantitative","scale":{"domain":[-0.6,0.284],"nice":false,"zero":false},"axis":{"title":"Returns","values":[-0.6,-0.5,-0.4,-0.3,-0.2,-0.1,0,0.1,0.2],"tickCount":20,"labelExpr":"replace(format(datum.value,'.1f'),'-','−')"}},"y2":{"field":"Th"}}},
{"mark":{"type":"area","color":"#ff7f0e"},"encoding":{"y":{"field":"Dl","type":"quantitative"},"y2":{"field":"Dh"}}},
{"mark":{"type":"area","color":"#2ca02c"},"encoding":{"y":{"field":"Ll","type":"quantitative"},"y2":{"field":"Lh"}}},
{"mark":{"type":"area","color":"#6c8093"},"encoding":{"y":{"field":"Bl","type":"quantitative"},"y2":{"field":"Bh"}}},
{"mark":{"type":"area","color":"#b5403a"},"encoding":{"y":{"field":"Pl","type":"quantitative"},"y2":{"field":"Ph"}}},
{"mark":{"type":"area","color":"#9b30a8"},"encoding":{"y":{"field":"Gl","type":"quantitative"},"y2":{"field":"Gh"}}},
{"mark":{"type":"area","color":"#ff2b2b"},"encoding":{"y":{"field":"Rl","type":"quantitative"},"y2":{"field":"Rh"}}},
{"mark":"line","encoding":{"y":{"field":"T","type":"quantitative"},"color":{"datum":"Tracking","type":"nominal","scale":{"domain":["Tracking","DRON","LIAM","Deep BPR+","π₁*","GSCU-Greedy(Ours)","GSCU(Ours)"],"range":["#2a84c6","#ff7f0e","#2ca02c","#6c8093","#b5403a","#9b30a8","#ff2b2b"]},"legend":{"title":null,"orient":"bottom-left","offset":5}}}},
{"mark":"line","encoding":{"y":{"field":"D","type":"quantitative"},"color":{"datum":"DRON","type":"nominal"}}},
{"mark":"line","encoding":{"y":{"field":"L","type":"quantitative"},"color":{"datum":"LIAM","type":"nominal"}}},
{"mark":"line","encoding":{"y":{"field":"B","type":"quantitative"},"color":{"datum":"Deep BPR+","type":"nominal"}}},
{"mark":"line","encoding":{"y":{"field":"P","type":"quantitative"},"color":{"datum":"π₁*","type":"nominal"}}},
{"mark":"line","encoding":{"y":{"field":"G","type":"quantitative"},"color":{"datum":"GSCU-Greedy(Ours)","type":"nominal"}}},
{"mark":"line","encoding":{"y":{"field":"R","type":"quantitative"},"color":{"datum":"GSCU(Ours)","type":"nominal"}}}
]},
{"title":"seen","width":263,"height":196,"data":{"name":"p5"},
"encoding":{"x":{"field":"x","type":"quantitative","scale":{"domain":[0,49],"nice":false,"zero":false},"axis":{"title":"Opponents","values":[5,15,25,35,45],"tickCount":20,"labels":false,"titlePadding":18}}},
"layer":[
{"mark":{"type":"area","color":"#2a84c6"},"encoding":{"y":{"field":"Tl","type":"quantitative","scale":{"domain":[-20,20],"nice":false,"zero":false},"axis":{"title":"Returns","values":[-20,-15,-10,-5,0,5,10,15,20],"tickCount":20,"labelExpr":"replace(format(datum.value,'d'),'-','−')"}},"y2":{"field":"Th"}}},
{"mark":{"type":"area","color":"#708090"},"encoding":{"y":{"field":"Bl","type":"quantitative"},"y2":{"field":"Bh"}}},
{"mark":{"type":"area","color":"#9b30a8"},"encoding":{"y":{"field":"Gl","type":"quantitative"},"y2":{"field":"Gh"}}},
{"mark":{"type":"area","color":"#ff2b2b"},"encoding":{"y":{"field":"Rl","type":"quantitative"},"y2":{"field":"Rh"}}},
{"data":{"values":[{"x":10},{"x":20},{"x":30},{"x":40}]},"mark":"rule","encoding":{}},
{"mark":"line","encoding":{"y":{"field":"T","type":"quantitative"},"color":{"datum":"Tracking","type":"nominal","scale":{"domain":["Tracking","Deep BPR+","GSCU-Greedy(Ours)","GSCU(Ours)"],"range":["#2a84c6","#708090","#9b30a8","#ff2b2b"]},"legend":{"title":null,"orient":"bottom-left"}}}},
{"mark":"line","encoding":{"y":{"field":"B","type":"quantitative"},"color":{"datum":"Deep BPR+","type":"nominal"}}},
{"mark":"line","encoding":{"y":{"field":"G","type":"quantitative"},"color":{"datum":"GSCU-Greedy(Ours)","type":"nominal"}}},
{"mark":"line","encoding":{"y":{"field":"R","type":"quantitative"},"color":{"datum":"GSCU(Ours)","type":"nominal"}}},
{"data":{"values":[{"x":5,"s":"SW"},{"x":15,"s":"W"},{"x":25,"s":"SW"},{"x":35,"s":"NW"},{"x":45,"s":"N"}]},"mark":{"type":"text","text":"O","align":"right","baseline":"top","dy":3,"dx":1,"fontSize":13.5,"fontStyle":"italic","color":"#333"},"encoding":{"y":{"datum":-20}}},
{"data":{"values":[{"x":5,"s":"SW"},{"x":15,"s":"W"},{"x":25,"s":"SW"},{"x":35,"s":"NW"},{"x":45,"s":"N"}]},"mark":{"type":"text","align":"left","baseline":"top","dy":8,"dx":1,"fontSize":9,"fontStyle":"italic","color":"#333"},"encoding":{"y":{"datum":-20},"text":{"field":"s"}}}
]},
{"title":"unseen","width":263,"height":196,"data":{"name":"p6"},
"encoding":{"x":{"field":"x","type":"quantitative","scale":{"domain":[0,49],"nice":false,"zero":false},"axis":{"title":"Opponents","values":[5,15,25,35,45],"tickCount":20,"labels":false,"titlePadding":18}}},
"layer":[
{"mark":{"type":"area","color":"#2a84c6"},"encoding":{"y":{"field":"Tl","type":"quantitative","scale":{"domain":[-161,46],"nice":false,"zero":false},"axis":{"title":"Returns","values":[-150,-125,-100,-75,-50,-25,0,25],"tickCount":20,"labelExpr":"replace(format(datum.value,'d'),'-','−')"}},"y2":{"field":"Th"}}},
{"mark":{"type":"area","color":"#708090"},"encoding":{"y":{"field":"Bl","type":"quantitative"},"y2":{"field":"Bh"}}},
{"mark":{"type":"area","color":"#9b30a8"},"encoding":{"y":{"field":"Gl","type":"quantitative"},"y2":{"field":"Gh"}}},
{"mark":{"type":"area","color":"#ff2b2b"},"encoding":{"y":{"field":"Rl","type":"quantitative"},"y2":{"field":"Rh"}}},
{"data":{"values":[{"x":10},{"x":20},{"x":30},{"x":40}]},"mark":"rule","encoding":{}},
{"mark":"line","encoding":{"y":{"field":"T","type":"quantitative"},"color":{"datum":"Tracking","type":"nominal","scale":{"domain":["Tracking","Deep BPR+","GSCU-Greedy(Ours)","GSCU(Ours)"],"range":["#2a84c6","#708090","#9b30a8","#ff2b2b"]},"legend":{"title":null,"orient":"bottom-left"}}}},
{"mark":"line","encoding":{"y":{"field":"B","type":"quantitative"},"color":{"datum":"Deep BPR+","type":"nominal"}}},
{"mark":"line","encoding":{"y":{"field":"G","type":"quantitative"},"color":{"datum":"GSCU-Greedy(Ours)","type":"nominal"}}},
{"mark":"line","encoding":{"y":{"field":"R","type":"quantitative"},"color":{"datum":"GSCU(Ours)","type":"nominal"}}},
{"data":{"values":[{"x":5,"s":"E"},{"x":15,"s":"S"},{"x":25,"s":"SE"},{"x":35,"s":"NE"},{"x":45,"s":"NE"}]},"mark":{"type":"text","text":"O","align":"right","baseline":"top","dy":3,"dx":1,"fontSize":13.5,"fontStyle":"italic","color":"#333"},"encoding":{"y":{"datum":-161}}},
{"data":{"values":[{"x":5,"s":"E"},{"x":15,"s":"S"},{"x":25,"s":"SE"},{"x":35,"s":"NE"},{"x":45,"s":"NE"}]},"mark":{"type":"text","align":"left","baseline":"top","dy":8,"dx":1,"fontSize":9,"fontStyle":"italic","color":"#333"},"encoding":{"y":{"datum":-161},"text":{"field":"s"}}}
]},
{"title":"mix","width":263,"height":196,"data":{"name":"p7"},
"encoding":{"x":{"field":"x","type":"quantitative","scale":{"domain":[0,49],"nice":false,"zero":false},"axis":{"title":"Opponents","values":[5,15,25,35,45],"tickCount":20,"labels":false,"titlePadding":18}}},
"layer":[
{"mark":{"type":"area","color":"#2a84c6"},"encoding":{"y":{"field":"Tl","type":"quantitative","scale":{"domain":[-120,25],"nice":false,"zero":false},"axis":{"title":"Returns","values":[-120,-100,-80,-60,-40,-20,0,20],"tickCount":20,"labelExpr":"replace(format(datum.value,'d'),'-','−')"}},"y2":{"field":"Th"}}},
{"mark":{"type":"area","color":"#708090"},"encoding":{"y":{"field":"Bl","type":"quantitative"},"y2":{"field":"Bh"}}},
{"mark":{"type":"area","color":"#9b30a8"},"encoding":{"y":{"field":"Gl","type":"quantitative"},"y2":{"field":"Gh"}}},
{"mark":{"type":"area","color":"#ff2b2b"},"encoding":{"y":{"field":"Rl","type":"quantitative"},"y2":{"field":"Rh"}}},
{"data":{"values":[{"x":10},{"x":20},{"x":30},{"x":40}]},"mark":"rule","encoding":{}},
{"mark":"line","encoding":{"y":{"field":"T","type":"quantitative"},"color":{"datum":"Tracking","type":"nominal","scale":{"domain":["Tracking","Deep BPR+","GSCU-Greedy(Ours)","GSCU(Ours)"],"range":["#2a84c6","#708090","#9b30a8","#ff2b2b"]},"legend":{"title":null,"orient":"bottom-left"}}}},
{"mark":"line","encoding":{"y":{"field":"B","type":"quantitative"},"color":{"datum":"Deep BPR+","type":"nominal"}}},
{"mark":"line","encoding":{"y":{"field":"G","type":"quantitative"},"color":{"datum":"GSCU-Greedy(Ours)","type":"nominal"}}},
{"mark":"line","encoding":{"y":{"field":"R","type":"quantitative"},"color":{"datum":"GSCU(Ours)","type":"nominal"}}},
{"data":{"values":[{"x":5,"s":"SE"},{"x":15,"s":"W"},{"x":25,"s":"SE"},{"x":35,"s":"E"},{"x":45,"s":"NW"}]},"mark":{"type":"text","text":"O","align":"right","baseline":"top","dy":3,"dx":1,"fontSize":13.5,"fontStyle":"italic","color":"#333"},"encoding":{"y":{"datum":-120}}},
{"data":{"values":[{"x":5,"s":"SE"},{"x":15,"s":"W"},{"x":25,"s":"SE"},{"x":35,"s":"E"},{"x":45,"s":"NW"}]},"mark":{"type":"text","align":"left","baseline":"top","dy":8,"dx":1,"fontSize":9,"fontStyle":"italic","color":"#333"},"encoding":{"y":{"datum":-120},"text":{"field":"s"}}}
]},
{"title":"adaptive","width":263,"height":196,"data":{"name":"p8"},
"encoding":{"x":{"field":"x","type":"quantitative","scale":{"domain":[0,950],"nice":false,"zero":false},"axis":{"title":"Episodes","values":[0,200,400,600,800],"tickCount":20,"format":"d"}}},
"layer":[
{"mark":{"type":"area","color":"#2a84c6"},"encoding":{"y":{"field":"Tl","type":"quantitative","scale":{"domain":[-476,-15],"nice":false,"zero":false},"axis":{"title":"Returns","values":[-400,-300,-200,-100],"tickCount":20,"labelExpr":"replace(format(datum.value,'d'),'-','−')"}},"y2":{"field":"Th"}}},
{"mark":{"type":"area","color":"#ff7f0e"},"encoding":{"y":{"field":"Dl","type":"quantitative"},"y2":{"field":"Dh"}}},
{"mark":{"type":"area","color":"#2ca02c"},"encoding":{"y":{"field":"Ll","type":"quantitative"},"y2":{"field":"Lh"}}},
{"mark":{"type":"area","color":"#a3afba"},"encoding":{"y":{"field":"Bl","type":"quantitative"},"y2":{"field":"Bh"}}},
{"mark":{"type":"area","color":"#b5403a"},"encoding":{"y":{"field":"Pl","type":"quantitative"},"y2":{"field":"Ph"}}},
{"mark":{"type":"area","color":"#9b30a8"},"encoding":{"y":{"field":"Gl","type":"quantitative"},"y2":{"field":"Gh"}}},
{"mark":{"type":"area","color":"#ff2b2b"},"encoding":{"y":{"field":"Rl","type":"quantitative"},"y2":{"field":"Rh"}}},
{"mark":"line","encoding":{"y":{"field":"T","type":"quantitative"},"color":{"datum":"Tracking","type":"nominal","scale":{"domain":["Tracking","DRON","LIAM","Deep BPR+","π₁*","GSCU-Greedy(Ours)","GSCU(Ours)"],"range":["#2a84c6","#ff7f0e","#2ca02c","#a3afba","#b5403a","#8e2a9e","#ff2b2b"]},"legend":{"title":null,"orient":"bottom-left"}}}},
{"mark":"line","encoding":{"y":{"field":"D","type":"quantitative"},"color":{"datum":"DRON","type":"nominal"}}},
{"mark":"line","encoding":{"y":{"field":"L","type":"quantitative"},"color":{"datum":"LIAM","type":"nominal"}}},
{"mark":"line","encoding":{"y":{"field":"B","type":"quantitative"},"color":{"datum":"Deep BPR+","type":"nominal"}}},
{"mark":"line","encoding":{"y":{"field":"P","type":"quantitative"},"color":{"datum":"π₁*","type":"nominal"}}},
{"mark":"line","encoding":{"y":{"field":"G","type":"quantitative"},"color":{"datum":"GSCU-Greedy(Ours)","type":"nominal"}}},
{"mark":"line","encoding":{"y":{"field":"R","type":"quantitative"},"color":{"datum":"GSCU(Ours)","type":"nominal"}}}
]}
]
}
